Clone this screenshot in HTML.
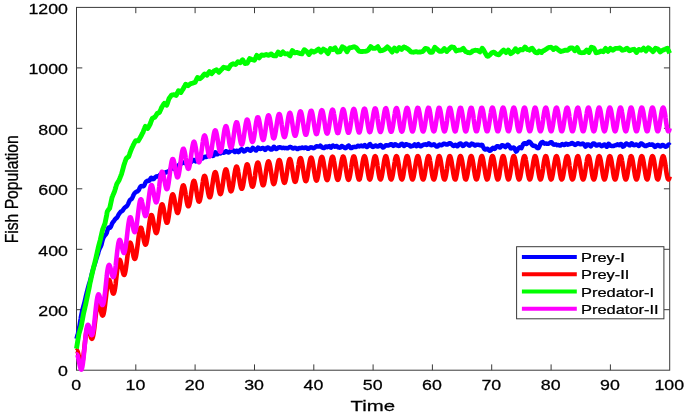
<!DOCTYPE html>
<html><head><meta charset="utf-8"><title>Fish Population</title>
<style>
html,body{margin:0;padding:0;background:#fff;}
svg{display:block}
text{font-family:"Liberation Sans",Arial,Helvetica,sans-serif;fill:#000;stroke:#000;stroke-width:0.25px}
.tk{font-size:14px}
.lb{font-size:15px}
.yl{font-size:15.7px}
.lg{font-size:12.8px}
</style></head><body>
<svg width="685" height="416" viewBox="0 0 685 416">
<rect x="0" y="0" width="685" height="416" fill="#fff"/>
<rect x="76.5" y="7.4" width="593.2" height="362.8" fill="none" stroke="#3a3a3a" stroke-width="1"/>
<text class="tk" transform="translate(76.1,390.0) scale(1.27,1)" text-anchor="middle">0</text>
<path d="M135.8 370.2v-5.8 M135.8 7.4v5.8" stroke="#3a3a3a" stroke-width="1"/>
<text class="tk" transform="translate(135.4,390.0) scale(1.27,1)" text-anchor="middle">10</text>
<path d="M195.1 370.2v-5.8 M195.1 7.4v5.8" stroke="#3a3a3a" stroke-width="1"/>
<text class="tk" transform="translate(194.7,390.0) scale(1.27,1)" text-anchor="middle">20</text>
<path d="M254.5 370.2v-5.8 M254.5 7.4v5.8" stroke="#3a3a3a" stroke-width="1"/>
<text class="tk" transform="translate(254.1,390.0) scale(1.27,1)" text-anchor="middle">30</text>
<path d="M313.8 370.2v-5.8 M313.8 7.4v5.8" stroke="#3a3a3a" stroke-width="1"/>
<text class="tk" transform="translate(313.4,390.0) scale(1.27,1)" text-anchor="middle">40</text>
<path d="M373.1 370.2v-5.8 M373.1 7.4v5.8" stroke="#3a3a3a" stroke-width="1"/>
<text class="tk" transform="translate(372.7,390.0) scale(1.27,1)" text-anchor="middle">50</text>
<path d="M432.4 370.2v-5.8 M432.4 7.4v5.8" stroke="#3a3a3a" stroke-width="1"/>
<text class="tk" transform="translate(432.0,390.0) scale(1.27,1)" text-anchor="middle">60</text>
<path d="M491.7 370.2v-5.8 M491.7 7.4v5.8" stroke="#3a3a3a" stroke-width="1"/>
<text class="tk" transform="translate(491.3,390.0) scale(1.27,1)" text-anchor="middle">70</text>
<path d="M551.1 370.2v-5.8 M551.1 7.4v5.8" stroke="#3a3a3a" stroke-width="1"/>
<text class="tk" transform="translate(550.7,390.0) scale(1.27,1)" text-anchor="middle">80</text>
<path d="M610.4 370.2v-5.8 M610.4 7.4v5.8" stroke="#3a3a3a" stroke-width="1"/>
<text class="tk" transform="translate(610.0,390.0) scale(1.27,1)" text-anchor="middle">90</text>
<text class="tk" transform="translate(669.3,390.0) scale(1.27,1)" text-anchor="middle">100</text>
<text class="tk" transform="translate(68.0,376.4) scale(1.27,1)" text-anchor="end">0</text>
<path d="M76.5 309.7h5.8 M669.7 309.7h-5.8" stroke="#3a3a3a" stroke-width="1"/>
<text class="tk" transform="translate(68.0,315.9) scale(1.27,1)" text-anchor="end">200</text>
<path d="M76.5 249.3h5.8 M669.7 249.3h-5.8" stroke="#3a3a3a" stroke-width="1"/>
<text class="tk" transform="translate(68.0,255.5) scale(1.27,1)" text-anchor="end">400</text>
<path d="M76.5 188.8h5.8 M669.7 188.8h-5.8" stroke="#3a3a3a" stroke-width="1"/>
<text class="tk" transform="translate(68.0,195.0) scale(1.27,1)" text-anchor="end">600</text>
<path d="M76.5 128.3h5.8 M669.7 128.3h-5.8" stroke="#3a3a3a" stroke-width="1"/>
<text class="tk" transform="translate(68.0,134.5) scale(1.27,1)" text-anchor="end">800</text>
<path d="M76.5 67.9h5.8 M669.7 67.9h-5.8" stroke="#3a3a3a" stroke-width="1"/>
<text class="tk" transform="translate(68.0,74.1) scale(1.27,1)" text-anchor="end">1000</text>
<text class="tk" transform="translate(68.0,13.6) scale(1.27,1)" text-anchor="end">1200</text>
<text class="lb" transform="translate(372.8,410.9) scale(1.36,1)" text-anchor="middle">Time</text>
<text class="yl" transform="translate(17.65,189.3) scale(1.2,1) rotate(-90)" text-anchor="middle">Fish Population</text>
<path d="M76.5,338.9 L76.8,337.7 L77.1,336.5 L77.4,335.4 L77.7,334.4 L78.0,333.3 L78.3,332.2 L78.6,330.7 L78.9,329.1 L79.2,327.5 L79.5,325.8 L79.8,324.0 L80.1,322.1 L80.4,320.5 L80.7,318.8 L80.9,317.2 L81.2,315.6 L81.5,314.1 L81.8,312.7 L82.1,311.3 L82.4,310.1 L82.7,308.9 L83.0,307.8 L83.3,306.7 L83.6,305.6 L83.9,304.5 L84.2,303.4 L84.5,302.2 L84.8,301.0 L85.1,299.7 L85.4,298.4 L85.7,297.1 L86.0,295.8 L86.3,294.5 L86.6,293.3 L86.9,292.1 L87.2,291.0 L87.5,289.8 L87.8,288.6 L88.1,287.5 L88.4,286.4 L88.7,285.3 L89.0,284.2 L89.3,283.4 L89.6,282.6 L89.8,281.7 L90.1,280.7 L90.4,279.6 L90.7,278.5 L91.0,277.3 L91.3,276.0 L91.6,274.8 L91.9,273.6 L92.2,272.5 L92.5,271.4 L92.8,270.3 L93.1,269.2 L93.4,268.2 L93.7,267.2 L94.0,266.2 L94.3,265.3 L94.6,264.5 L94.9,263.6 L95.2,262.7 L95.5,261.7 L95.8,260.7 L96.1,259.6 L96.4,258.6 L96.7,257.6 L97.0,256.7 L97.3,255.8 L97.6,254.9 L97.9,254.2 L98.2,253.1 L98.4,252.1 L98.7,251.2 L99.0,250.3 L99.3,249.5 L99.6,248.7 L99.9,248.1 L100.2,247.6 L100.5,247.0 L100.8,246.3 L101.1,245.6 L101.4,244.9 L101.7,243.7 L102.0,242.5 L102.3,241.3 L102.6,240.2 L102.9,239.2 L103.2,238.3 L103.5,237.6 L103.8,237.1 L104.1,236.6 L104.4,236.1 L104.7,235.7 L105.0,235.3 L105.3,235.0 L105.6,234.6 L105.9,234.3 L106.2,233.8 L106.5,233.3 L106.8,232.7 L107.0,231.8 L107.3,230.9 L107.6,230.0 L107.9,229.1 L108.2,228.3 L108.5,227.6 L108.8,227.5 L109.1,227.4 L109.4,227.4 L109.7,227.5 L110.0,227.5 L110.3,227.6 L110.6,227.0 L110.9,226.5 L111.2,225.8 L111.5,225.1 L111.8,224.3 L112.1,223.5 L112.4,223.0 L112.7,222.6 L113.0,222.1 L113.3,221.7 L113.6,221.4 L113.9,221.1 L114.2,220.6 L114.5,220.1 L114.8,219.7 L115.1,219.3 L115.4,218.9 L115.7,218.5 L115.9,218.4 L116.2,218.3 L116.5,218.0 L116.8,217.8 L117.1,217.4 L117.4,217.0 L117.7,216.4 L118.0,215.8 L118.3,215.2 L118.6,214.7 L118.9,214.2 L119.2,213.8 L119.5,213.3 L119.8,212.9 L120.1,212.5 L120.4,212.1 L120.7,211.8 L121.0,211.4 L121.3,211.4 L121.6,211.3 L121.9,211.2 L122.2,211.0 L122.5,210.7 L122.8,210.3 L123.1,209.9 L123.4,209.4 L123.7,208.9 L124.0,208.5 L124.3,208.1 L124.5,207.9 L124.8,207.5 L125.1,207.3 L125.4,207.1 L125.7,206.9 L126.0,206.7 L126.3,206.6 L126.6,206.3 L126.9,206.0 L127.2,205.6 L127.5,205.1 L127.8,204.6 L128.1,204.0 L128.4,203.3 L128.7,202.6 L129.0,201.9 L129.3,201.3 L129.6,200.7 L129.9,200.1 L130.2,199.8 L130.5,199.6 L130.8,199.4 L131.1,199.2 L131.4,199.1 L131.7,198.9 L132.0,198.4 L132.3,197.8 L132.6,197.2 L132.9,196.6 L133.2,195.9 L133.4,195.1 L133.7,194.6 L134.0,194.1 L134.3,193.6 L134.6,193.2 L134.9,192.8 L135.2,192.6 L135.5,192.3 L135.8,192.1 L136.1,191.9 L136.4,191.8 L136.7,191.7 L137.0,191.5 L137.3,191.4 L137.6,191.3 L137.9,191.0 L138.2,190.7 L138.5,190.4 L138.8,190.0 L139.1,189.3 L139.4,188.6 L139.7,187.9 L140.0,187.3 L140.3,186.8 L140.6,186.3 L140.9,186.2 L141.2,186.1 L141.5,186.1 L141.8,186.2 L142.0,186.2 L142.3,186.2 L142.6,186.3 L142.9,186.3 L143.2,186.3 L143.5,186.2 L143.8,186.0 L144.1,185.7 L144.4,185.0 L144.7,184.3 L145.0,183.6 L145.3,183.0 L145.6,182.4 L145.9,181.9 L146.2,181.6 L146.5,181.3 L146.8,181.1 L147.1,181.0 L147.4,180.8 L147.7,180.7 L148.0,180.8 L148.3,180.9 L148.6,180.9 L148.9,180.8 L149.2,180.7 L149.5,180.6 L149.8,180.0 L150.1,179.5 L150.4,178.9 L150.7,178.4 L150.9,178.0 L151.2,177.7 L151.5,177.8 L151.8,178.0 L152.1,178.3 L152.4,178.6 L152.7,178.9 L153.0,179.2 L153.3,179.1 L153.6,179.0 L153.9,178.8 L154.2,178.5 L154.5,178.1 L154.8,177.7 L155.1,177.4 L155.4,177.1 L155.7,176.8 L156.0,176.6 L156.3,176.5 L156.6,176.4 L156.9,176.3 L157.2,176.3 L157.5,176.3 L157.8,176.4 L158.1,176.4 L158.4,176.5 L158.7,176.3 L159.0,176.1 L159.3,175.9 L159.5,175.5 L159.8,175.1 L160.1,174.6 L160.4,174.4 L160.7,174.2 L161.0,173.9 L161.3,173.8 L161.6,173.6 L161.9,173.6 L162.2,173.3 L162.5,173.1 L162.8,172.9 L163.1,172.8 L163.4,172.7 L163.7,172.5 L164.0,172.7 L164.3,172.8 L164.6,172.8 L164.9,172.8 L165.2,172.7 L165.5,172.5 L165.8,172.4 L166.1,172.2 L166.4,172.1 L166.7,172.0 L167.0,171.9 L167.3,172.0 L167.6,171.7 L167.9,171.5 L168.1,171.4 L168.4,171.3 L168.7,171.2 L169.0,171.1 L169.3,170.9 L169.6,170.6 L169.9,170.2 L170.2,169.8 L170.5,169.3 L170.8,168.7 L171.1,168.5 L171.4,168.4 L171.7,168.2 L172.0,168.1 L172.3,168.1 L172.6,168.1 L172.9,168.2 L173.2,168.3 L173.5,168.5 L173.8,168.7 L174.1,169.0 L174.4,169.2 L174.7,169.1 L175.0,168.9 L175.3,168.7 L175.6,168.4 L175.9,168.0 L176.2,167.6 L176.5,167.3 L176.8,167.1 L177.0,166.8 L177.3,166.6 L177.6,166.5 L177.9,166.5 L178.2,166.0 L178.5,165.6 L178.8,165.2 L179.1,164.9 L179.4,164.5 L179.7,164.2 L180.0,164.2 L180.3,164.2 L180.6,164.1 L180.9,163.9 L181.2,163.7 L181.5,163.4 L181.8,163.2 L182.1,162.9 L182.4,162.7 L182.7,162.5 L183.0,162.4 L183.3,162.4 L183.6,162.4 L183.9,162.5 L184.2,162.7 L184.5,162.9 L184.8,163.1 L185.1,163.2 L185.4,163.2 L185.6,163.1 L185.9,162.9 L186.2,162.7 L186.5,162.4 L186.8,162.0 L187.1,162.0 L187.4,162.0 L187.7,161.9 L188.0,162.0 L188.3,162.1 L188.6,162.2 L188.9,162.1 L189.2,162.1 L189.5,162.1 L189.8,162.2 L190.1,162.2 L190.4,162.3 L190.7,162.2 L191.0,162.1 L191.3,161.9 L191.6,161.6 L191.9,161.3 L192.2,160.9 L192.5,160.7 L192.8,160.5 L193.1,160.3 L193.4,160.1 L193.7,160.0 L194.0,160.0 L194.3,160.1 L194.5,160.3 L194.8,160.5 L195.1,160.8 L195.4,161.0 L195.7,161.3 L196.0,160.9 L196.3,160.5 L196.6,159.9 L196.9,159.4 L197.2,158.7 L197.5,158.0 L197.8,158.0 L198.1,157.9 L198.4,157.9 L198.7,157.9 L199.0,158.0 L199.3,158.1 L199.6,158.1 L199.9,158.1 L200.2,158.1 L200.5,158.2 L200.8,158.3 L201.1,158.3 L201.4,158.5 L201.7,158.5 L202.0,158.5 L202.3,158.4 L202.6,158.3 L202.9,158.1 L203.1,157.8 L203.4,157.5 L203.7,157.3 L204.0,157.1 L204.3,157.0 L204.6,156.9 L204.9,156.8 L205.2,156.8 L205.5,156.8 L205.8,156.9 L206.1,156.9 L206.4,157.0 L206.7,156.8 L207.0,156.6 L207.3,156.3 L207.6,155.9 L207.9,155.5 L208.2,155.0 L208.5,154.8 L208.8,154.5 L209.1,154.3 L209.4,154.1 L209.7,154.0 L210.0,153.9 L210.3,154.1 L210.6,154.3 L210.9,154.6 L211.2,154.9 L211.5,155.1 L211.7,155.4 L212.0,155.6 L212.3,155.8 L212.6,155.9 L212.9,155.9 L213.2,155.8 L213.5,155.7 L213.8,155.1 L214.1,154.4 L214.4,153.8 L214.7,153.3 L215.0,152.8 L215.3,152.3 L215.6,152.6 L215.9,152.9 L216.2,153.2 L216.5,153.6 L216.8,154.0 L217.1,154.3 L217.4,154.3 L217.7,154.1 L218.0,153.9 L218.3,153.6 L218.6,153.3 L218.9,152.9 L219.2,152.9 L219.5,152.9 L219.8,152.9 L220.1,153.0 L220.4,153.1 L220.6,153.3 L220.9,153.0 L221.2,152.8 L221.5,152.7 L221.8,152.5 L222.1,152.4 L222.4,152.3 L222.7,152.5 L223.0,152.6 L223.3,152.7 L223.6,152.7 L223.9,152.7 L224.2,152.6 L224.5,152.3 L224.8,152.0 L225.1,151.7 L225.4,151.5 L225.7,151.3 L226.0,151.2 L226.3,151.3 L226.6,151.5 L226.9,151.6 L227.2,151.9 L227.5,152.1 L227.8,152.2 L228.1,152.4 L228.4,152.4 L228.7,152.4 L229.0,152.3 L229.2,152.2 L229.5,152.0 L229.8,151.7 L230.1,151.4 L230.4,151.1 L230.7,150.8 L231.0,150.6 L231.3,150.5 L231.6,150.4 L231.9,150.3 L232.2,150.2 L232.5,150.2 L232.8,150.2 L233.1,150.2 L233.4,150.7 L233.7,151.1 L234.0,151.4 L234.3,151.7 L234.6,152.0 L234.9,152.1 L235.2,151.8 L235.5,151.5 L235.8,151.2 L236.1,150.9 L236.4,150.8 L236.7,150.7 L237.0,150.8 L237.3,151.1 L237.6,151.4 L237.9,151.7 L238.1,152.0 L238.4,152.2 L238.7,152.0 L239.0,151.8 L239.3,151.4 L239.6,151.0 L239.9,150.5 L240.2,150.0 L240.5,149.8 L240.8,149.6 L241.1,149.4 L241.4,149.3 L241.7,149.3 L242.0,149.3 L242.3,149.6 L242.6,149.9 L242.9,150.2 L243.2,150.6 L243.5,151.0 L243.8,151.4 L244.1,151.4 L244.4,151.3 L244.7,151.2 L245.0,151.0 L245.3,150.8 L245.6,150.5 L245.9,150.1 L246.2,149.8 L246.5,149.5 L246.7,149.2 L247.0,149.1 L247.3,148.9 L247.6,149.0 L247.9,149.1 L248.2,149.3 L248.5,149.4 L248.8,149.6 L249.1,149.8 L249.4,150.1 L249.7,150.4 L250.0,150.6 L250.3,150.7 L250.6,150.7 L250.9,150.7 L251.2,150.2 L251.5,149.6 L251.8,149.1 L252.1,148.7 L252.4,148.3 L252.7,147.9 L253.0,148.0 L253.3,148.2 L253.6,148.4 L253.9,148.7 L254.2,148.9 L254.5,149.1 L254.8,149.5 L255.1,149.8 L255.3,150.1 L255.6,150.3 L255.9,150.4 L256.2,150.5 L256.5,149.9 L256.8,149.4 L257.1,148.8 L257.4,148.4 L257.7,148.0 L258.0,147.6 L258.3,147.7 L258.6,147.9 L258.9,148.1 L259.2,148.4 L259.5,148.6 L259.8,148.8 L260.1,148.9 L260.4,148.9 L260.7,148.9 L261.0,148.8 L261.3,148.6 L261.6,148.4 L261.9,148.2 L262.2,148.1 L262.5,148.1 L262.8,148.0 L263.1,148.1 L263.4,148.2 L263.7,148.4 L264.0,148.7 L264.2,149.0 L264.5,149.3 L264.8,149.7 L265.1,150.0 L265.4,149.8 L265.7,149.5 L266.0,149.2 L266.3,148.7 L266.6,148.3 L266.9,147.7 L267.2,147.7 L267.5,147.6 L267.8,147.5 L268.1,147.6 L268.4,147.6 L268.7,147.8 L269.0,148.0 L269.3,148.2 L269.6,148.5 L269.9,148.8 L270.2,149.1 L270.5,149.4 L270.8,149.5 L271.1,149.6 L271.4,149.6 L271.7,149.5 L272.0,149.4 L272.3,149.2 L272.6,148.7 L272.8,148.2 L273.1,147.7 L273.4,147.3 L273.7,146.9 L274.0,146.7 L274.3,147.0 L274.6,147.3 L274.9,147.7 L275.2,148.1 L275.5,148.5 L275.8,148.9 L276.1,149.0 L276.4,149.0 L276.7,148.9 L277.0,148.7 L277.3,148.5 L277.6,148.3 L277.9,148.0 L278.2,147.8 L278.5,147.5 L278.8,147.4 L279.1,147.3 L279.4,147.3 L279.7,147.2 L280.0,147.3 L280.3,147.4 L280.6,147.5 L280.9,147.6 L281.2,147.6 L281.5,147.8 L281.7,147.9 L282.0,148.0 L282.3,148.0 L282.6,147.9 L282.9,147.8 L283.2,147.8 L283.5,147.8 L283.8,147.8 L284.1,147.9 L284.4,148.0 L284.7,148.2 L285.0,148.1 L285.3,148.1 L285.6,148.1 L285.9,148.1 L286.2,148.1 L286.5,148.1 L286.8,148.2 L287.1,148.3 L287.4,148.3 L287.7,148.3 L288.0,148.1 L288.3,148.0 L288.6,147.7 L288.9,147.5 L289.2,147.3 L289.5,147.1 L289.8,147.1 L290.1,147.0 L290.3,147.1 L290.6,147.1 L290.9,147.2 L291.2,147.4 L291.5,147.5 L291.8,147.6 L292.1,147.9 L292.4,148.1 L292.7,148.3 L293.0,148.4 L293.3,148.5 L293.6,148.5 L293.9,148.3 L294.2,148.1 L294.5,147.9 L294.8,147.8 L295.1,147.8 L295.4,147.9 L295.7,148.0 L296.0,148.2 L296.3,148.4 L296.6,148.6 L296.9,148.8 L297.2,149.0 L297.5,149.1 L297.8,149.0 L298.1,148.9 L298.4,148.7 L298.7,148.5 L298.9,148.2 L299.2,148.1 L299.5,148.0 L299.8,148.0 L300.1,148.0 L300.4,148.0 L300.7,148.2 L301.0,148.0 L301.3,147.9 L301.6,147.8 L301.9,147.7 L302.2,147.6 L302.5,147.5 L302.8,147.7 L303.1,147.9 L303.4,148.0 L303.7,148.1 L304.0,148.1 L304.3,148.0 L304.6,147.9 L304.9,147.7 L305.2,147.6 L305.5,147.5 L305.8,147.5 L306.1,147.6 L306.4,147.7 L306.7,147.9 L307.0,148.1 L307.3,148.4 L307.6,148.6 L307.8,148.8 L308.1,148.8 L308.4,148.8 L308.7,148.6 L309.0,148.5 L309.3,148.2 L309.6,147.9 L309.9,147.7 L310.2,147.6 L310.5,147.4 L310.8,147.3 L311.1,147.3 L311.4,147.4 L311.7,147.4 L312.0,147.5 L312.3,147.7 L312.6,147.9 L312.9,148.0 L313.2,148.1 L313.5,148.2 L313.8,148.1 L314.1,148.0 L314.4,147.8 L314.7,147.6 L315.0,147.3 L315.3,147.0 L315.6,146.8 L315.9,146.6 L316.2,146.4 L316.4,146.3 L316.7,146.3 L317.0,146.3 L317.3,146.3 L317.6,146.4 L317.9,146.4 L318.2,146.5 L318.5,146.5 L318.8,146.5 L319.1,146.5 L319.4,146.4 L319.7,146.2 L320.0,146.0 L320.3,145.7 L320.6,146.0 L320.9,146.2 L321.2,146.4 L321.5,146.7 L321.8,147.1 L322.1,147.6 L322.4,147.6 L322.7,147.6 L323.0,147.8 L323.3,147.9 L323.6,148.0 L323.9,148.1 L324.2,148.0 L324.5,147.8 L324.8,147.6 L325.1,147.3 L325.3,147.0 L325.6,146.6 L325.9,146.6 L326.2,146.6 L326.5,146.6 L326.8,146.7 L327.1,146.9 L327.4,147.2 L327.7,146.9 L328.0,146.8 L328.3,146.6 L328.6,146.5 L328.9,146.4 L329.2,146.2 L329.5,146.6 L329.8,146.9 L330.1,147.2 L330.4,147.4 L330.7,147.5 L331.0,147.6 L331.3,147.2 L331.6,146.7 L331.9,146.3 L332.2,146.0 L332.5,145.7 L332.8,145.5 L333.1,145.6 L333.4,145.8 L333.7,146.0 L333.9,146.3 L334.2,146.5 L334.5,146.7 L334.8,146.7 L335.1,146.7 L335.4,146.6 L335.7,146.4 L336.0,146.2 L336.3,145.9 L336.6,146.0 L336.9,146.2 L337.2,146.4 L337.5,146.6 L337.8,146.9 L338.1,147.3 L338.4,147.3 L338.7,147.3 L339.0,147.4 L339.3,147.6 L339.6,147.7 L339.9,147.7 L340.2,147.6 L340.5,147.4 L340.8,147.2 L341.1,146.8 L341.4,146.5 L341.7,146.0 L342.0,146.1 L342.3,146.2 L342.6,146.3 L342.8,146.5 L343.1,146.7 L343.4,147.0 L343.7,147.1 L344.0,147.3 L344.3,147.5 L344.6,147.8 L344.9,148.0 L345.2,148.2 L345.5,148.1 L345.8,148.0 L346.1,147.8 L346.4,147.5 L346.7,147.2 L347.0,146.9 L347.3,146.5 L347.6,146.2 L347.9,146.0 L348.2,145.8 L348.5,145.6 L348.8,145.5 L349.1,145.9 L349.4,146.3 L349.7,146.7 L350.0,147.2 L350.3,147.6 L350.6,148.0 L350.9,148.1 L351.2,148.1 L351.4,148.1 L351.7,147.9 L352.0,147.8 L352.3,147.5 L352.6,147.3 L352.9,147.1 L353.2,147.0 L353.5,146.9 L353.8,146.9 L354.1,146.9 L354.4,146.9 L354.7,146.8 L355.0,146.9 L355.3,146.9 L355.6,147.0 L355.9,147.0 L356.2,146.9 L356.5,146.8 L356.8,146.7 L357.1,146.4 L357.4,146.1 L357.7,145.8 L358.0,145.8 L358.3,145.8 L358.6,145.9 L358.9,146.0 L359.2,146.1 L359.5,146.4 L359.8,146.2 L360.0,146.0 L360.3,145.9 L360.6,145.8 L360.9,145.7 L361.2,145.5 L361.5,145.8 L361.8,146.1 L362.1,146.2 L362.4,146.3 L362.7,146.3 L363.0,146.3 L363.3,146.0 L363.6,145.7 L363.9,145.5 L364.2,145.3 L364.5,145.2 L364.8,145.1 L365.1,145.4 L365.4,145.7 L365.7,146.0 L366.0,146.4 L366.3,146.7 L366.6,147.0 L366.9,147.0 L367.2,146.9 L367.5,146.7 L367.8,146.4 L368.1,146.1 L368.4,145.7 L368.7,145.4 L368.9,145.0 L369.2,144.7 L369.5,144.4 L369.8,144.2 L370.1,144.1 L370.4,144.5 L370.7,144.9 L371.0,145.3 L371.3,145.7 L371.6,146.1 L371.9,146.5 L372.2,146.7 L372.5,146.8 L372.8,146.9 L373.1,146.9 L373.4,146.8 L373.7,146.7 L374.0,146.4 L374.3,146.1 L374.6,145.9 L374.9,145.7 L375.2,145.5 L375.5,145.5 L375.8,145.6 L376.1,145.7 L376.4,145.9 L376.7,146.1 L377.0,146.3 L377.3,146.4 L377.5,146.5 L377.8,146.5 L378.1,146.4 L378.4,146.3 L378.7,146.0 L379.0,145.8 L379.3,145.6 L379.6,145.4 L379.9,145.2 L380.2,145.1 L380.5,145.1 L380.8,145.1 L381.1,145.4 L381.4,145.8 L381.7,146.2 L382.0,146.6 L382.3,147.0 L382.6,147.4 L382.9,147.5 L383.2,147.4 L383.5,147.3 L383.8,147.1 L384.1,146.9 L384.4,146.6 L384.7,146.3 L385.0,146.0 L385.3,145.7 L385.6,145.4 L385.9,145.3 L386.2,145.2 L386.4,145.2 L386.7,145.2 L387.0,145.3 L387.3,145.4 L387.6,145.5 L387.9,145.5 L388.2,145.6 L388.5,145.5 L388.8,145.5 L389.1,145.3 L389.4,145.1 L389.7,144.9 L390.0,144.6 L390.3,144.4 L390.6,144.3 L390.9,144.2 L391.2,144.2 L391.5,144.2 L391.8,144.4 L392.1,144.7 L392.4,145.0 L392.7,145.4 L393.0,145.7 L393.3,146.0 L393.6,145.8 L393.9,145.6 L394.2,145.4 L394.5,145.1 L394.8,144.7 L395.0,144.3 L395.3,144.3 L395.6,144.4 L395.9,144.5 L396.2,144.7 L396.5,145.0 L396.8,145.3 L397.1,145.3 L397.4,145.4 L397.7,145.6 L398.0,145.7 L398.3,145.8 L398.6,145.9 L398.9,145.9 L399.2,145.8 L399.5,145.6 L399.8,145.3 L400.1,145.0 L400.4,144.7 L400.7,144.4 L401.0,144.2 L401.3,144.0 L401.6,143.9 L401.9,143.8 L402.2,143.8 L402.5,144.1 L402.8,144.5 L403.1,144.9 L403.4,145.3 L403.6,145.6 L403.9,146.0 L404.2,145.9 L404.5,145.7 L404.8,145.4 L405.1,145.1 L405.4,144.7 L405.7,144.3 L406.0,144.3 L406.3,144.3 L406.6,144.3 L406.9,144.4 L407.2,144.6 L407.5,144.8 L407.8,144.8 L408.1,144.8 L408.4,144.9 L408.7,145.0 L409.0,145.1 L409.3,145.1 L409.6,145.5 L409.9,145.8 L410.2,146.1 L410.5,146.3 L410.8,146.4 L411.1,146.5 L411.4,146.3 L411.7,146.1 L412.0,145.9 L412.3,145.8 L412.5,145.8 L412.8,145.9 L413.1,145.6 L413.4,145.3 L413.7,145.1 L414.0,144.9 L414.3,144.7 L414.6,144.4 L414.9,144.9 L415.2,145.2 L415.5,145.6 L415.8,145.8 L416.1,146.0 L416.4,146.2 L416.7,145.7 L417.0,145.3 L417.3,144.9 L417.6,144.5 L417.9,144.3 L418.2,144.1 L418.5,144.4 L418.8,144.7 L419.1,145.1 L419.4,145.4 L419.7,145.8 L420.0,146.1 L420.3,146.2 L420.6,146.3 L420.9,146.3 L421.1,146.2 L421.4,146.0 L421.7,145.9 L422.0,145.6 L422.3,145.3 L422.6,145.1 L422.9,144.9 L423.2,144.8 L423.5,144.8 L423.8,144.6 L424.1,144.6 L424.4,144.5 L424.7,144.5 L425.0,144.4 L425.3,144.3 L425.6,144.6 L425.9,144.7 L426.2,144.8 L426.5,144.9 L426.8,144.9 L427.1,144.8 L427.4,144.5 L427.7,144.1 L428.0,143.8 L428.3,143.6 L428.6,143.4 L428.9,143.3 L429.2,143.5 L429.5,143.8 L429.8,144.1 L430.0,144.4 L430.3,144.7 L430.6,144.9 L430.9,145.1 L431.2,145.2 L431.5,145.2 L431.8,145.2 L432.1,145.1 L432.4,145.0 L432.7,144.8 L433.0,144.6 L433.3,144.4 L433.6,144.4 L433.9,144.3 L434.2,144.4 L434.5,144.7 L434.8,145.0 L435.1,145.3 L435.4,145.6 L435.7,146.0 L436.0,146.2 L436.3,146.4 L436.6,146.5 L436.9,146.6 L437.2,146.5 L437.5,146.4 L437.8,146.3 L438.1,145.9 L438.4,145.6 L438.6,145.2 L438.9,145.0 L439.2,144.8 L439.5,144.6 L439.8,144.7 L440.1,144.8 L440.4,145.0 L440.7,145.1 L441.0,145.2 L441.3,145.3 L441.6,145.2 L441.9,145.1 L442.2,144.9 L442.5,144.6 L442.8,144.3 L443.1,144.0 L443.4,143.8 L443.7,143.7 L444.0,143.7 L444.3,143.7 L444.6,143.8 L444.9,143.9 L445.2,144.0 L445.5,144.1 L445.8,144.2 L446.1,144.4 L446.4,144.5 L446.7,144.5 L447.0,144.6 L447.2,144.6 L447.5,144.5 L447.8,144.3 L448.1,144.1 L448.4,143.8 L448.7,143.6 L449.0,143.4 L449.3,143.3 L449.6,143.2 L449.9,143.2 L450.2,143.2 L450.5,143.4 L450.8,143.6 L451.1,143.9 L451.4,144.2 L451.7,144.4 L452.0,144.6 L452.3,145.0 L452.6,145.3 L452.9,145.6 L453.2,145.7 L453.5,145.9 L453.8,146.0 L454.1,145.7 L454.4,145.4 L454.7,145.2 L455.0,145.0 L455.3,144.9 L455.6,144.8 L455.9,145.0 L456.1,145.3 L456.4,145.6 L456.7,145.8 L457.0,146.1 L457.3,146.3 L457.6,146.0 L457.9,145.8 L458.2,145.4 L458.5,145.0 L458.8,144.5 L459.1,144.0 L459.4,143.8 L459.7,143.7 L460.0,143.5 L460.3,143.5 L460.6,143.5 L460.9,143.6 L461.2,144.0 L461.5,144.4 L461.8,144.8 L462.1,145.2 L462.4,145.6 L462.7,145.9 L463.0,145.9 L463.3,145.8 L463.6,145.6 L463.9,145.4 L464.2,145.1 L464.5,144.8 L464.7,144.5 L465.0,144.2 L465.3,143.9 L465.6,143.8 L465.9,143.6 L466.2,143.6 L466.5,143.7 L466.8,143.9 L467.1,144.1 L467.4,144.3 L467.7,144.5 L468.0,144.6 L468.3,144.9 L468.6,145.2 L468.9,145.4 L469.2,145.6 L469.5,145.6 L469.8,145.7 L470.1,145.2 L470.4,144.8 L470.7,144.4 L471.0,144.1 L471.3,143.8 L471.6,143.6 L471.9,143.7 L472.2,143.8 L472.5,143.9 L472.8,144.0 L473.1,144.2 L473.4,144.2 L473.6,144.6 L473.9,144.9 L474.2,145.2 L474.5,145.3 L474.8,145.5 L475.1,145.6 L475.4,145.3 L475.7,145.0 L476.0,144.9 L476.3,144.7 L476.6,144.7 L476.9,144.7 L477.2,144.7 L477.5,144.7 L477.8,144.7 L478.1,144.8 L478.4,144.8 L478.7,144.8 L479.0,144.9 L479.3,145.0 L479.6,145.2 L479.9,145.2 L480.2,145.3 L480.5,145.4 L480.8,145.2 L481.1,145.0 L481.4,144.9 L481.7,144.8 L482.0,144.9 L482.2,145.0 L482.5,145.5 L482.8,146.2 L483.1,146.8 L483.4,147.4 L483.7,148.0 L484.0,148.6 L484.3,148.9 L484.6,149.2 L484.9,149.4 L485.2,149.5 L485.5,149.5 L485.8,149.4 L486.1,149.3 L486.4,149.1 L486.7,148.9 L487.0,148.8 L487.3,148.8 L487.6,148.8 L487.9,149.1 L488.2,149.4 L488.5,149.8 L488.8,150.1 L489.1,150.5 L489.4,150.7 L489.7,150.8 L490.0,150.7 L490.3,150.6 L490.6,150.5 L490.9,150.2 L491.1,150.0 L491.4,149.5 L491.7,149.1 L492.0,148.6 L492.3,148.3 L492.6,148.0 L492.9,147.8 L493.2,148.0 L493.5,148.2 L493.8,148.4 L494.1,148.6 L494.4,148.8 L494.7,148.9 L495.0,148.7 L495.3,148.3 L495.6,147.9 L495.9,147.5 L496.2,147.0 L496.5,146.5 L496.8,146.3 L497.1,146.2 L497.4,146.2 L497.7,146.2 L498.0,146.2 L498.3,146.4 L498.6,146.5 L498.9,146.8 L499.2,147.0 L499.5,147.2 L499.7,147.5 L500.0,147.6 L500.3,147.4 L500.6,147.1 L500.9,146.7 L501.2,146.3 L501.5,145.8 L501.8,145.3 L502.1,145.3 L502.4,145.3 L502.7,145.3 L503.0,145.4 L503.3,145.5 L503.6,145.8 L503.9,145.9 L504.2,146.2 L504.5,146.4 L504.8,146.7 L505.1,146.9 L505.4,147.1 L505.7,146.8 L506.0,146.5 L506.3,146.2 L506.6,145.7 L506.9,145.3 L507.2,144.8 L507.5,144.7 L507.8,144.7 L508.1,144.8 L508.3,145.0 L508.6,145.2 L508.9,145.6 L509.2,146.0 L509.5,146.4 L509.8,146.9 L510.1,147.4 L510.4,147.9 L510.7,148.3 L511.0,148.4 L511.3,148.4 L511.6,148.3 L511.9,148.2 L512.2,148.1 L512.5,147.9 L512.8,147.8 L513.1,147.7 L513.4,147.6 L513.7,147.6 L514.0,147.7 L514.3,147.8 L514.6,148.5 L514.9,149.1 L515.2,149.8 L515.5,150.5 L515.8,151.1 L516.1,151.6 L516.4,151.4 L516.7,151.2 L517.0,150.8 L517.2,150.4 L517.5,149.8 L517.8,149.2 L518.1,148.8 L518.4,148.5 L518.7,148.1 L519.0,147.8 L519.3,147.5 L519.6,147.3 L519.9,147.4 L520.2,147.6 L520.5,147.8 L520.8,147.9 L521.1,148.1 L521.4,148.2 L521.7,147.6 L522.0,146.9 L522.3,146.2 L522.6,145.5 L522.9,144.8 L523.2,144.0 L523.5,143.8 L523.8,143.5 L524.1,143.4 L524.4,143.3 L524.7,143.2 L525.0,143.2 L525.3,143.3 L525.6,143.4 L525.8,143.6 L526.1,143.8 L526.4,143.9 L526.7,144.0 L527.0,143.7 L527.3,143.4 L527.6,143.0 L527.9,142.6 L528.2,142.2 L528.5,141.8 L528.8,141.7 L529.1,141.7 L529.4,141.7 L529.7,141.9 L530.0,142.1 L530.3,142.4 L530.6,142.8 L530.9,143.2 L531.2,143.7 L531.5,144.1 L531.8,144.5 L532.1,144.9 L532.4,145.2 L532.7,145.5 L533.0,145.7 L533.3,145.8 L533.6,145.8 L533.9,145.9 L534.2,145.8 L534.5,145.8 L534.7,145.8 L535.0,145.9 L535.3,146.0 L535.6,146.3 L535.9,146.5 L536.2,146.9 L536.5,147.2 L536.8,147.5 L537.1,147.8 L537.4,148.0 L537.7,148.1 L538.0,148.2 L538.3,148.1 L538.6,147.8 L538.9,147.4 L539.2,146.6 L539.5,146.1 L539.8,145.4 L540.1,144.6 L540.4,144.0 L540.7,143.5 L541.0,143.2 L541.3,142.6 L541.6,142.3 L541.9,142.3 L542.2,142.2 L542.5,142.1 L542.8,142.0 L543.1,142.4 L543.3,142.8 L543.6,143.1 L543.9,143.3 L544.2,143.5 L544.5,143.7 L544.8,143.5 L545.1,143.5 L545.4,143.4 L545.7,143.4 L546.0,143.5 L546.3,143.7 L546.6,143.7 L546.9,143.7 L547.2,143.8 L547.5,143.8 L547.8,143.8 L548.1,143.7 L548.4,143.7 L548.7,143.7 L549.0,143.5 L549.3,143.3 L549.6,143.1 L549.9,142.8 L550.2,142.6 L550.5,142.4 L550.8,142.3 L551.1,142.2 L551.4,142.3 L551.7,142.3 L551.9,142.7 L552.2,143.0 L552.5,143.4 L552.8,143.8 L553.1,144.1 L553.4,144.4 L553.7,144.6 L554.0,144.7 L554.3,144.7 L554.6,144.6 L554.9,144.5 L555.2,144.4 L555.5,144.4 L555.8,144.4 L556.1,144.5 L556.4,144.7 L556.7,144.9 L557.0,145.2 L557.3,145.1 L557.6,145.1 L557.9,145.1 L558.2,145.1 L558.5,145.1 L558.8,145.0 L559.1,145.2 L559.4,145.4 L559.7,145.5 L560.0,145.5 L560.3,145.5 L560.6,145.5 L560.8,145.1 L561.1,144.8 L561.4,144.5 L561.7,144.3 L562.0,144.2 L562.3,144.1 L562.6,144.3 L562.9,144.4 L563.2,144.6 L563.5,144.7 L563.8,144.9 L564.1,145.0 L564.4,144.9 L564.7,144.8 L565.0,144.6 L565.3,144.3 L565.6,144.1 L565.9,143.7 L566.2,143.8 L566.5,143.8 L566.8,144.0 L567.1,144.1 L567.4,144.4 L567.7,144.7 L568.0,144.6 L568.3,144.5 L568.6,144.4 L568.9,144.3 L569.2,144.2 L569.4,144.0 L569.7,144.0 L570.0,144.0 L570.3,143.9 L570.6,143.8 L570.9,143.6 L571.2,143.4 L571.5,143.2 L571.8,143.1 L572.1,143.1 L572.4,143.1 L572.7,143.3 L573.0,143.4 L573.3,143.6 L573.6,143.9 L573.9,144.2 L574.2,144.4 L574.5,144.7 L574.8,144.8 L575.1,144.9 L575.4,144.8 L575.7,144.7 L576.0,144.5 L576.3,144.3 L576.6,144.1 L576.9,143.9 L577.2,143.6 L577.5,143.4 L577.8,143.3 L578.1,143.3 L578.3,143.3 L578.6,143.5 L578.9,143.6 L579.2,143.8 L579.5,144.0 L579.8,144.1 L580.1,144.2 L580.4,144.3 L580.7,144.3 L581.0,144.2 L581.3,144.1 L581.6,144.0 L581.9,143.8 L582.2,143.7 L582.5,143.7 L582.8,143.6 L583.1,143.7 L583.4,143.8 L583.7,144.0 L584.0,144.4 L584.3,144.9 L584.6,145.4 L584.9,145.8 L585.2,146.2 L585.5,146.6 L585.8,146.4 L586.1,146.1 L586.4,145.8 L586.7,145.4 L586.9,144.9 L587.2,144.5 L587.5,144.4 L587.8,144.4 L588.1,144.4 L588.4,144.5 L588.7,144.6 L589.0,144.8 L589.3,145.1 L589.6,145.4 L589.9,145.7 L590.2,145.9 L590.5,146.2 L590.8,146.4 L591.1,146.1 L591.4,145.7 L591.7,145.3 L592.0,144.8 L592.3,144.3 L592.6,143.8 L592.9,143.6 L593.2,143.5 L593.5,143.4 L593.8,143.4 L594.1,143.4 L594.4,143.6 L594.7,143.9 L595.0,144.2 L595.3,144.6 L595.6,144.9 L595.8,145.2 L596.1,145.4 L596.4,145.5 L596.7,145.5 L597.0,145.4 L597.3,145.3 L597.6,145.1 L597.9,144.9 L598.2,144.7 L598.5,144.6 L598.8,144.4 L599.1,144.4 L599.4,144.4 L599.7,144.5 L600.0,144.8 L600.3,145.1 L600.6,145.4 L600.9,145.7 L601.2,146.0 L601.5,146.2 L601.8,146.1 L602.1,146.0 L602.4,145.9 L602.7,145.7 L603.0,145.4 L603.3,145.1 L603.6,144.9 L603.9,144.7 L604.2,144.6 L604.4,144.6 L604.7,144.6 L605.0,144.7 L605.3,145.0 L605.6,145.4 L605.9,145.8 L606.2,146.2 L606.5,146.6 L606.8,146.8 L607.1,146.5 L607.4,146.1 L607.7,145.6 L608.0,145.0 L608.3,144.4 L608.6,143.8 L608.9,144.0 L609.2,144.2 L609.5,144.5 L609.8,144.9 L610.1,145.3 L610.4,145.8 L610.7,145.8 L611.0,145.8 L611.3,145.9 L611.6,145.9 L611.9,145.9 L612.2,145.9 L612.5,146.0 L612.8,146.1 L613.0,146.1 L613.3,146.1 L613.6,146.0 L613.9,146.0 L614.2,145.7 L614.5,145.5 L614.8,145.4 L615.1,145.3 L615.4,145.3 L615.7,145.3 L616.0,145.2 L616.3,145.0 L616.6,144.9 L616.9,144.7 L617.2,144.6 L617.5,144.3 L617.8,144.6 L618.1,144.8 L618.4,145.0 L618.7,145.1 L619.0,145.2 L619.3,145.2 L619.6,144.8 L619.9,144.5 L620.2,144.3 L620.5,144.1 L620.8,143.9 L621.1,143.9 L621.4,144.3 L621.7,144.8 L621.9,145.3 L622.2,145.7 L622.5,146.2 L622.8,146.6 L623.1,146.5 L623.4,146.4 L623.7,146.3 L624.0,146.0 L624.3,145.8 L624.6,145.5 L624.9,145.0 L625.2,144.6 L625.5,144.2 L625.8,143.9 L626.1,143.6 L626.4,143.5 L626.7,143.6 L627.0,143.8 L627.3,144.0 L627.6,144.2 L627.9,144.3 L628.2,144.4 L628.5,144.7 L628.8,145.0 L629.1,145.2 L629.4,145.3 L629.7,145.3 L630.0,145.4 L630.3,144.9 L630.5,144.4 L630.8,144.0 L631.1,143.7 L631.4,143.4 L631.7,143.2 L632.0,143.5 L632.3,143.9 L632.6,144.2 L632.9,144.6 L633.2,144.8 L633.5,145.1 L633.8,145.2 L634.1,145.2 L634.4,145.2 L634.7,145.1 L635.0,145.0 L635.3,144.8 L635.6,144.7 L635.9,144.6 L636.2,144.5 L636.5,144.6 L636.8,144.7 L637.1,144.8 L637.4,145.0 L637.7,145.2 L638.0,145.5 L638.3,145.7 L638.6,145.9 L638.9,146.0 L639.2,145.7 L639.4,145.4 L639.7,145.0 L640.0,144.6 L640.3,144.1 L640.6,143.6 L640.9,143.5 L641.2,143.5 L641.5,143.5 L641.8,143.6 L642.1,143.8 L642.4,144.0 L642.7,144.2 L643.0,144.5 L643.3,144.8 L643.6,145.0 L643.9,145.3 L644.2,145.4 L644.5,145.7 L644.8,145.9 L645.1,146.0 L645.4,146.0 L645.7,146.1 L646.0,146.1 L646.3,145.8 L646.6,145.5 L646.9,145.3 L647.2,145.2 L647.5,145.2 L647.8,145.2 L648.0,145.1 L648.3,144.9 L648.6,144.8 L648.9,144.7 L649.2,144.6 L649.5,144.3 L649.8,144.5 L650.1,144.7 L650.4,144.7 L650.7,144.7 L651.0,144.7 L651.3,144.7 L651.6,144.6 L651.9,144.5 L652.2,144.5 L652.5,144.6 L652.8,144.7 L653.1,144.9 L653.4,145.2 L653.7,145.6 L654.0,146.0 L654.3,146.3 L654.6,146.6 L654.9,146.9 L655.2,146.8 L655.5,146.6 L655.8,146.4 L656.1,146.1 L656.4,145.8 L656.6,145.5 L656.9,145.3 L657.2,145.1 L657.5,145.1 L657.8,145.0 L658.1,145.1 L658.4,145.2 L658.7,145.4 L659.0,145.6 L659.3,145.9 L659.6,146.1 L659.9,146.3 L660.2,146.4 L660.5,146.4 L660.8,146.3 L661.1,146.1 L661.4,145.8 L661.7,145.5 L662.0,145.2 L662.3,145.1 L662.6,145.0 L662.9,145.0 L663.2,145.0 L663.5,145.2 L663.8,145.3 L664.1,145.6 L664.4,145.8 L664.7,146.1 L665.0,146.4 L665.3,146.6 L665.5,146.7 L665.8,146.7 L666.1,146.7 L666.4,146.5 L666.7,146.3 L667.0,146.1 L667.3,145.9 L667.6,145.5 L667.9,145.2 L668.2,144.9 L668.5,144.7 L668.8,144.6 L669.1,144.5 L669.4,144.9 L669.7,145.3" fill="none" stroke="#0000ff" stroke-width="4.5" stroke-linejoin="round" stroke-linecap="butt"/>
<path d="M76.5,350.9 L76.8,350.6 L77.1,350.7 L77.4,351.1 L77.7,351.8 L78.0,352.7 L78.3,353.9 L78.6,355.2 L78.9,356.6 L79.2,358.1 L79.5,359.6 L79.8,361.1 L80.1,362.3 L80.4,363.4 L80.7,364.3 L80.9,364.9 L81.2,365.1 L81.5,365.0 L81.8,364.6 L82.1,363.7 L82.4,362.5 L82.7,361.0 L83.0,359.1 L83.3,357.0 L83.6,354.6 L83.9,352.0 L84.2,349.3 L84.5,346.5 L84.8,343.7 L85.1,341.0 L85.4,338.4 L85.7,336.0 L86.0,333.8 L86.3,331.8 L86.6,330.2 L86.9,328.9 L87.2,328.0 L87.5,327.4 L87.8,327.2 L88.1,327.3 L88.4,327.7 L88.7,328.4 L89.0,329.3 L89.3,330.4 L89.6,331.6 L89.8,332.9 L90.1,334.2 L90.4,335.4 L90.7,336.5 L91.0,337.5 L91.3,338.2 L91.6,338.6 L91.9,338.8 L92.2,338.6 L92.5,338.1 L92.8,337.2 L93.1,336.0 L93.4,334.5 L93.7,332.6 L94.0,330.5 L94.3,328.1 L94.6,325.6 L94.9,323.0 L95.2,320.3 L95.5,317.6 L95.8,315.0 L96.1,312.5 L96.4,310.2 L96.7,308.1 L97.0,306.3 L97.3,304.8 L97.6,303.7 L97.9,302.9 L98.2,302.5 L98.4,302.4 L98.7,302.7 L99.0,303.2 L99.3,304.1 L99.6,305.1 L99.9,306.3 L100.2,307.7 L100.5,309.1 L100.8,310.5 L101.1,311.8 L101.4,313.0 L101.7,314.1 L102.0,314.9 L102.3,315.4 L102.6,315.6 L102.9,315.4 L103.2,315.0 L103.5,314.1 L103.8,312.9 L104.1,311.4 L104.4,309.6 L104.7,307.5 L105.0,305.1 L105.3,302.6 L105.6,300.0 L105.9,297.4 L106.2,294.7 L106.5,292.1 L106.8,289.7 L107.0,287.4 L107.3,285.3 L107.6,283.6 L107.9,282.1 L108.2,281.0 L108.5,280.3 L108.8,279.9 L109.1,279.9 L109.4,280.1 L109.7,280.7 L110.0,281.6 L110.3,282.7 L110.6,284.0 L110.9,285.4 L111.2,286.8 L111.5,288.3 L111.8,289.6 L112.1,290.9 L112.4,292.0 L112.7,292.8 L113.0,293.4 L113.3,293.6 L113.6,293.5 L113.9,293.1 L114.2,292.3 L114.5,291.2 L114.8,289.7 L115.1,288.0 L115.4,285.9 L115.7,283.7 L115.9,281.3 L116.2,278.7 L116.5,276.2 L116.8,273.6 L117.1,271.1 L117.4,268.8 L117.7,266.6 L118.0,264.7 L118.3,263.0 L118.6,261.7 L118.9,260.7 L119.2,260.0 L119.5,259.8 L119.8,259.8 L120.1,260.2 L120.4,261.0 L120.7,261.9 L121.0,263.1 L121.3,264.5 L121.6,266.0 L121.9,267.5 L122.2,269.1 L122.5,270.5 L122.8,271.9 L123.1,273.0 L123.4,273.9 L123.7,274.6 L124.0,274.9 L124.3,274.9 L124.5,274.5 L124.8,273.8 L125.1,272.7 L125.4,271.3 L125.7,269.7 L126.0,267.7 L126.3,265.5 L126.6,263.2 L126.9,260.7 L127.2,258.3 L127.5,255.8 L127.8,253.4 L128.1,251.1 L128.4,249.0 L128.7,247.2 L129.0,245.6 L129.3,244.4 L129.6,243.5 L129.9,242.9 L130.2,242.7 L130.5,242.9 L130.8,243.4 L131.1,244.2 L131.4,245.2 L131.7,246.5 L132.0,248.0 L132.3,249.5 L132.6,251.2 L132.9,252.8 L133.2,254.3 L133.4,255.7 L133.7,256.9 L134.0,257.8 L134.3,258.5 L134.6,258.9 L134.9,258.9 L135.2,258.6 L135.5,257.9 L135.8,256.9 L136.1,255.5 L136.4,253.9 L136.7,252.0 L137.0,249.8 L137.3,247.5 L137.6,245.1 L137.9,242.7 L138.2,240.2 L138.5,237.9 L138.8,235.7 L139.1,233.6 L139.4,231.8 L139.7,230.3 L140.0,229.1 L140.3,228.3 L140.6,227.8 L140.9,227.7 L141.2,227.9 L141.5,228.4 L141.8,229.3 L142.0,230.4 L142.3,231.7 L142.6,233.2 L142.9,234.8 L143.2,236.5 L143.5,238.2 L143.8,239.7 L144.1,241.2 L144.4,242.4 L144.7,243.4 L145.0,244.2 L145.3,244.6 L145.6,244.7 L145.9,244.4 L146.2,243.8 L146.5,242.8 L146.8,241.5 L147.1,239.9 L147.4,238.1 L147.7,236.0 L148.0,233.8 L148.3,231.5 L148.6,229.1 L148.9,226.7 L149.2,224.5 L149.5,222.3 L149.8,220.4 L150.1,218.7 L150.4,217.3 L150.7,216.2 L150.9,215.4 L151.2,215.0 L151.5,215.0 L151.8,215.3 L152.1,215.9 L152.4,216.9 L152.7,218.1 L153.0,219.5 L153.3,221.1 L153.6,222.8 L153.9,224.5 L154.2,226.2 L154.5,227.8 L154.8,229.3 L155.1,230.6 L155.4,231.7 L155.7,232.5 L156.0,232.9 L156.3,233.1 L156.6,232.8 L156.9,232.2 L157.2,231.3 L157.5,230.1 L157.8,228.5 L158.1,226.7 L158.4,224.7 L158.7,222.5 L159.0,220.2 L159.3,217.9 L159.5,215.6 L159.8,213.3 L160.1,211.2 L160.4,209.3 L160.7,207.7 L161.0,206.3 L161.3,205.3 L161.6,204.6 L161.9,204.3 L162.2,204.3 L162.5,204.6 L162.8,205.3 L163.1,206.3 L163.4,207.5 L163.7,209.0 L164.0,210.6 L164.3,212.3 L164.6,214.1 L164.9,215.8 L165.2,217.5 L165.5,219.0 L165.8,220.3 L166.1,221.4 L166.4,222.2 L166.7,222.7 L167.0,222.8 L167.3,222.6 L167.6,222.0 L167.9,221.1 L168.1,219.9 L168.4,218.3 L168.7,216.5 L169.0,214.5 L169.3,212.3 L169.6,210.0 L169.9,207.7 L170.2,205.4 L170.5,203.2 L170.8,201.2 L171.1,199.3 L171.4,197.7 L171.7,196.3 L172.0,195.3 L172.3,194.7 L172.6,194.4 L172.9,194.4 L173.2,194.8 L173.5,195.5 L173.8,196.5 L174.1,197.8 L174.4,199.2 L174.7,200.8 L175.0,202.6 L175.3,204.3 L175.6,206.1 L175.9,207.7 L176.2,209.2 L176.5,210.5 L176.8,211.6 L177.0,212.4 L177.3,212.9 L177.6,213.0 L177.9,212.7 L178.2,212.2 L178.5,211.2 L178.8,210.0 L179.1,208.5 L179.4,206.7 L179.7,204.7 L180.0,202.5 L180.3,200.3 L180.6,198.0 L180.9,195.7 L181.2,193.6 L181.5,191.6 L181.8,189.8 L182.1,188.2 L182.4,187.0 L182.7,186.1 L183.0,185.5 L183.3,185.3 L183.6,185.4 L183.9,186.0 L184.2,186.8 L184.5,187.9 L184.8,189.3 L185.1,190.9 L185.4,192.7 L185.6,194.6 L185.9,196.5 L186.2,198.3 L186.5,200.1 L186.8,201.8 L187.1,203.3 L187.4,204.5 L187.7,205.4 L188.0,206.0 L188.3,206.3 L188.6,206.2 L188.9,205.8 L189.2,205.0 L189.5,203.9 L189.8,202.5 L190.1,200.8 L190.4,198.9 L190.7,196.9 L191.0,194.8 L191.3,192.6 L191.6,190.5 L191.9,188.5 L192.2,186.6 L192.5,184.9 L192.8,183.4 L193.1,182.3 L193.4,181.4 L193.7,180.9 L194.0,180.8 L194.3,181.0 L194.5,181.5 L194.8,182.4 L195.1,183.5 L195.4,185.0 L195.7,186.6 L196.0,188.3 L196.3,190.2 L196.6,192.1 L196.9,194.0 L197.2,195.8 L197.5,197.4 L197.8,198.8 L198.1,200.0 L198.4,200.9 L198.7,201.5 L199.0,201.7 L199.3,201.6 L199.6,201.1 L199.9,200.2 L200.2,199.1 L200.5,197.6 L200.8,196.0 L201.1,194.1 L201.4,192.0 L201.7,189.9 L202.0,187.7 L202.3,185.5 L202.6,183.5 L202.9,181.6 L203.1,179.9 L203.4,178.4 L203.7,177.3 L204.0,176.4 L204.3,176.0 L204.6,175.8 L204.9,176.1 L205.2,176.6 L205.5,177.5 L205.8,178.7 L206.1,180.2 L206.4,181.8 L206.7,183.6 L207.0,185.5 L207.3,187.5 L207.6,189.4 L207.9,191.2 L208.2,192.8 L208.5,194.3 L208.8,195.5 L209.1,196.4 L209.4,197.0 L209.7,197.3 L210.0,197.2 L210.3,196.7 L210.6,195.9 L210.9,194.8 L211.2,193.4 L211.5,191.7 L211.7,189.8 L212.0,187.8 L212.3,185.7 L212.6,183.6 L212.9,181.5 L213.2,179.4 L213.5,177.6 L213.8,175.9 L214.1,174.5 L214.4,173.4 L214.7,172.7 L215.0,172.2 L215.3,172.1 L215.6,172.4 L215.9,173.0 L216.2,174.0 L216.5,175.2 L216.8,176.7 L217.1,178.4 L217.4,180.3 L217.7,182.2 L218.0,184.2 L218.3,186.1 L218.6,187.9 L218.9,189.6 L219.2,191.1 L219.5,192.3 L219.8,193.3 L220.1,193.9 L220.4,194.1 L220.6,194.1 L220.9,193.6 L221.2,192.8 L221.5,191.7 L221.8,190.3 L222.1,188.7 L222.4,186.8 L222.7,184.8 L223.0,182.8 L223.3,180.6 L223.6,178.6 L223.9,176.6 L224.2,174.7 L224.5,173.1 L224.8,171.7 L225.1,170.7 L225.4,169.9 L225.7,169.5 L226.0,169.4 L226.3,169.7 L226.6,170.4 L226.9,171.3 L227.2,172.6 L227.5,174.1 L227.8,175.8 L228.1,177.6 L228.4,179.6 L228.7,181.5 L229.0,183.4 L229.2,185.3 L229.5,186.9 L229.8,188.4 L230.1,189.6 L230.4,190.5 L230.7,191.1 L231.0,191.4 L231.3,191.2 L231.6,190.8 L231.9,190.0 L232.2,188.8 L232.5,187.4 L232.8,185.8 L233.1,183.9 L233.4,181.9 L233.7,179.8 L234.0,177.7 L234.3,175.6 L234.6,173.6 L234.9,171.8 L235.2,170.2 L235.5,168.8 L235.8,167.8 L236.1,167.0 L236.4,166.6 L236.7,166.6 L237.0,166.9 L237.3,167.6 L237.6,168.6 L237.9,169.8 L238.1,171.4 L238.4,173.1 L238.7,174.9 L239.0,176.9 L239.3,178.9 L239.6,180.8 L239.9,182.6 L240.2,184.3 L240.5,185.8 L240.8,187.0 L241.1,187.9 L241.4,188.5 L241.7,188.8 L242.0,188.7 L242.3,188.2 L242.6,187.4 L242.9,186.3 L243.2,184.9 L243.5,183.2 L243.8,181.4 L244.1,179.4 L244.4,177.3 L244.7,175.2 L245.0,173.2 L245.3,171.2 L245.6,169.4 L245.9,167.8 L246.2,166.5 L246.5,165.4 L246.7,164.7 L247.0,164.4 L247.3,164.4 L247.6,164.7 L247.9,165.4 L248.2,166.4 L248.5,167.7 L248.8,169.2 L249.1,171.0 L249.4,172.9 L249.7,174.8 L250.0,176.8 L250.3,178.8 L250.6,180.6 L250.9,182.3 L251.2,183.8 L251.5,185.0 L251.8,185.9 L252.1,186.5 L252.4,186.7 L252.7,186.6 L253.0,186.2 L253.3,185.4 L253.6,184.3 L253.9,182.9 L254.2,181.2 L254.5,179.4 L254.8,177.4 L255.1,175.3 L255.3,173.2 L255.6,171.2 L255.9,169.2 L256.2,167.5 L256.5,165.9 L256.8,164.6 L257.1,163.6 L257.4,162.9 L257.7,162.6 L258.0,162.6 L258.3,163.0 L258.6,163.7 L258.9,164.7 L259.2,166.1 L259.5,167.6 L259.8,169.4 L260.1,171.3 L260.4,173.3 L260.7,175.3 L261.0,177.3 L261.3,179.1 L261.6,180.8 L261.9,182.3 L262.2,183.5 L262.5,184.5 L262.8,185.1 L263.1,185.3 L263.4,185.2 L263.7,184.8 L264.0,184.0 L264.2,182.9 L264.5,181.5 L264.8,179.8 L265.1,178.0 L265.4,176.0 L265.7,174.0 L266.0,171.9 L266.3,169.9 L266.6,167.9 L266.9,166.2 L267.2,164.6 L267.5,163.4 L267.8,162.4 L268.1,161.7 L268.4,161.4 L268.7,161.4 L269.0,161.8 L269.3,162.6 L269.6,163.6 L269.9,165.0 L270.2,166.5 L270.5,168.3 L270.8,170.2 L271.1,172.2 L271.4,174.2 L271.7,176.1 L272.0,178.0 L272.3,179.7 L272.6,181.1 L272.8,182.3 L273.1,183.2 L273.4,183.8 L273.7,184.1 L274.0,183.9 L274.3,183.4 L274.6,182.6 L274.9,181.5 L275.2,180.1 L275.5,178.4 L275.8,176.6 L276.1,174.6 L276.4,172.5 L276.7,170.4 L277.0,168.4 L277.3,166.5 L277.6,164.7 L277.9,163.2 L278.2,161.9 L278.5,160.9 L278.8,160.3 L279.1,160.0 L279.4,160.1 L279.7,160.5 L280.0,161.2 L280.3,162.3 L280.6,163.6 L280.9,165.2 L281.2,167.0 L281.5,168.9 L281.7,170.9 L282.0,173.0 L282.3,174.9 L282.6,176.8 L282.9,178.5 L283.2,179.9 L283.5,181.1 L283.8,182.0 L284.1,182.6 L284.4,182.9 L284.7,182.7 L285.0,182.2 L285.3,181.4 L285.6,180.3 L285.9,178.9 L286.2,177.2 L286.5,175.4 L286.8,173.4 L287.1,171.4 L287.4,169.3 L287.7,167.3 L288.0,165.4 L288.3,163.6 L288.6,162.1 L288.9,160.8 L289.2,159.9 L289.5,159.3 L289.8,159.0 L290.1,159.1 L290.3,159.5 L290.6,160.3 L290.9,161.4 L291.2,162.7 L291.5,164.3 L291.8,166.1 L292.1,168.1 L292.4,170.1 L292.7,172.1 L293.0,174.0 L293.3,175.9 L293.6,177.6 L293.9,179.0 L294.2,180.2 L294.5,181.1 L294.8,181.7 L295.1,181.9 L295.4,181.7 L295.7,181.2 L296.0,180.4 L296.3,179.3 L296.6,177.8 L296.9,176.2 L297.2,174.3 L297.5,172.4 L297.8,170.3 L298.1,168.2 L298.4,166.2 L298.7,164.3 L298.9,162.6 L299.2,161.1 L299.5,159.9 L299.8,158.9 L300.1,158.3 L300.4,158.1 L300.7,158.2 L301.0,158.6 L301.3,159.4 L301.6,160.5 L301.9,161.9 L302.2,163.6 L302.5,165.4 L302.8,167.3 L303.1,169.3 L303.4,171.4 L303.7,173.3 L304.0,175.2 L304.3,176.9 L304.6,178.3 L304.9,179.5 L305.2,180.4 L305.5,181.0 L305.8,181.2 L306.1,181.1 L306.4,180.6 L306.7,179.8 L307.0,178.6 L307.3,177.2 L307.6,175.6 L307.8,173.7 L308.1,171.7 L308.4,169.7 L308.7,167.6 L309.0,165.7 L309.3,163.8 L309.6,162.1 L309.9,160.6 L310.2,159.4 L310.5,158.4 L310.8,157.9 L311.1,157.6 L311.4,157.7 L311.7,158.2 L312.0,159.0 L312.3,160.1 L312.6,161.5 L312.9,163.2 L313.2,165.0 L313.5,166.9 L313.8,168.9 L314.1,170.9 L314.4,172.9 L314.7,174.7 L315.0,176.4 L315.3,177.9 L315.6,179.0 L315.9,179.9 L316.2,180.4 L316.4,180.6 L316.7,180.5 L317.0,180.0 L317.3,179.1 L317.6,177.9 L317.9,176.5 L318.2,174.8 L318.5,173.0 L318.8,171.0 L319.1,168.9 L319.4,166.9 L319.7,164.9 L320.0,163.0 L320.3,161.3 L320.6,159.8 L320.9,158.6 L321.2,157.7 L321.5,157.1 L321.8,156.9 L322.1,157.0 L322.4,157.5 L322.7,158.3 L323.0,159.5 L323.3,160.9 L323.6,162.5 L323.9,164.4 L324.2,166.3 L324.5,168.4 L324.8,170.4 L325.1,172.3 L325.3,174.2 L325.6,175.9 L325.9,177.3 L326.2,178.5 L326.5,179.4 L326.8,179.9 L327.1,180.1 L327.4,180.0 L327.7,179.4 L328.0,178.6 L328.3,177.4 L328.6,176.0 L328.9,174.3 L329.2,172.5 L329.5,170.5 L329.8,168.5 L330.1,166.4 L330.4,164.4 L330.7,162.6 L331.0,160.9 L331.3,159.4 L331.6,158.2 L331.9,157.4 L332.2,156.8 L332.5,156.6 L332.8,156.8 L333.1,157.3 L333.4,158.1 L333.7,159.3 L333.9,160.7 L334.2,162.4 L334.5,164.2 L334.8,166.2 L335.1,168.2 L335.4,170.2 L335.7,172.2 L336.0,174.1 L336.3,175.7 L336.6,177.2 L336.9,178.4 L337.2,179.2 L337.5,179.8 L337.8,179.9 L338.1,179.8 L338.4,179.2 L338.7,178.4 L339.0,177.2 L339.3,175.8 L339.6,174.1 L339.9,172.2 L340.2,170.3 L340.5,168.2 L340.8,166.2 L341.1,164.2 L341.4,162.3 L341.7,160.7 L342.0,159.2 L342.3,158.0 L342.6,157.2 L342.8,156.6 L343.1,156.5 L343.4,156.6 L343.7,157.2 L344.0,158.0 L344.3,159.2 L344.6,160.6 L344.9,162.3 L345.2,164.2 L345.5,166.1 L345.8,168.2 L346.1,170.2 L346.4,172.1 L346.7,174.0 L347.0,175.7 L347.3,177.1 L347.6,178.3 L347.9,179.1 L348.2,179.6 L348.5,179.8 L348.8,179.6 L349.1,179.1 L349.4,178.2 L349.7,177.0 L350.0,175.6 L350.3,173.9 L350.6,172.0 L350.9,170.0 L351.2,168.0 L351.4,166.0 L351.7,164.0 L352.0,162.1 L352.3,160.5 L352.6,159.0 L352.9,157.9 L353.2,157.0 L353.5,156.5 L353.8,156.3 L354.1,156.5 L354.4,157.1 L354.7,157.9 L355.0,159.1 L355.3,160.6 L355.6,162.2 L355.9,164.1 L356.2,166.1 L356.5,168.1 L356.8,170.1 L357.1,172.1 L357.4,173.9 L357.7,175.6 L358.0,177.0 L358.3,178.2 L358.6,179.0 L358.9,179.5 L359.2,179.7 L359.5,179.5 L359.8,178.9 L360.0,178.0 L360.3,176.8 L360.6,175.4 L360.9,173.7 L361.2,171.8 L361.5,169.8 L361.8,167.8 L362.1,165.8 L362.4,163.8 L362.7,162.0 L363.0,160.3 L363.3,158.9 L363.6,157.7 L363.9,156.9 L364.2,156.4 L364.5,156.2 L364.8,156.4 L365.1,157.0 L365.4,157.9 L365.7,159.1 L366.0,160.5 L366.3,162.2 L366.6,164.1 L366.9,166.0 L367.2,168.1 L367.5,170.1 L367.8,172.1 L368.1,173.9 L368.4,175.5 L368.7,177.0 L368.9,178.1 L369.2,178.9 L369.5,179.4 L369.8,179.6 L370.1,179.3 L370.4,178.8 L370.7,177.9 L371.0,176.7 L371.3,175.2 L371.6,173.5 L371.9,171.6 L372.2,169.7 L372.5,167.6 L372.8,165.6 L373.1,163.6 L373.4,161.8 L373.7,160.1 L374.0,158.7 L374.3,157.6 L374.6,156.8 L374.9,156.3 L375.2,156.1 L375.5,156.3 L375.8,156.9 L376.1,157.8 L376.4,159.0 L376.7,160.5 L377.0,162.2 L377.3,164.1 L377.5,166.0 L377.8,168.1 L378.1,170.1 L378.4,172.1 L378.7,173.9 L379.0,175.5 L379.3,176.9 L379.6,178.1 L379.9,178.9 L380.2,179.4 L380.5,179.5 L380.8,179.3 L381.1,178.7 L381.4,177.8 L381.7,176.6 L382.0,175.1 L382.3,173.4 L382.6,171.5 L382.9,169.5 L383.2,167.5 L383.5,165.5 L383.8,163.5 L384.1,161.7 L384.4,160.0 L384.7,158.6 L385.0,157.5 L385.3,156.7 L385.6,156.2 L385.9,156.1 L386.2,156.3 L386.4,156.9 L386.7,157.8 L387.0,159.0 L387.3,160.5 L387.6,162.2 L387.9,164.1 L388.2,166.1 L388.5,168.1 L388.8,170.2 L389.1,172.1 L389.4,173.9 L389.7,175.6 L390.0,177.0 L390.3,178.1 L390.6,178.9 L390.9,179.4 L391.2,179.5 L391.5,179.2 L391.8,178.6 L392.1,177.7 L392.4,176.5 L392.7,175.0 L393.0,173.3 L393.3,171.4 L393.6,169.4 L393.9,167.4 L394.2,165.4 L394.5,163.4 L394.8,161.6 L395.0,160.0 L395.3,158.6 L395.6,157.5 L395.9,156.7 L396.2,156.2 L396.5,156.1 L396.8,156.3 L397.1,156.9 L397.4,157.9 L397.7,159.1 L398.0,160.6 L398.3,162.3 L398.6,164.2 L398.9,166.2 L399.2,168.2 L399.5,170.2 L399.8,172.2 L400.1,174.0 L400.4,175.6 L400.7,177.0 L401.0,178.1 L401.3,178.9 L401.6,179.4 L401.9,179.5 L402.2,179.2 L402.5,178.6 L402.8,177.7 L403.1,176.4 L403.4,174.9 L403.6,173.2 L403.9,171.3 L404.2,169.4 L404.5,167.3 L404.8,165.3 L405.1,163.3 L405.4,161.5 L405.7,159.9 L406.0,158.5 L406.3,157.4 L406.6,156.6 L406.9,156.2 L407.2,156.1 L407.5,156.4 L407.8,157.0 L408.1,157.9 L408.4,159.2 L408.7,160.7 L409.0,162.4 L409.3,164.3 L409.6,166.3 L409.9,168.3 L410.2,170.3 L410.5,172.3 L410.8,174.1 L411.1,175.7 L411.4,177.1 L411.7,178.2 L412.0,179.0 L412.3,179.4 L412.5,179.5 L412.8,179.2 L413.1,178.6 L413.4,177.6 L413.7,176.4 L414.0,174.9 L414.3,173.2 L414.6,171.3 L414.9,169.3 L415.2,167.2 L415.5,165.2 L415.8,163.3 L416.1,161.5 L416.4,159.8 L416.7,158.5 L417.0,157.4 L417.3,156.6 L417.6,156.2 L417.9,156.1 L418.2,156.4 L418.5,157.0 L418.8,158.0 L419.1,159.2 L419.4,160.7 L419.7,162.5 L420.0,164.3 L420.3,166.3 L420.6,168.4 L420.9,170.4 L421.1,172.3 L421.4,174.1 L421.7,175.8 L422.0,177.1 L422.3,178.2 L422.6,179.0 L422.9,179.4 L423.2,179.5 L423.5,179.2 L423.8,178.6 L424.1,177.6 L424.4,176.3 L424.7,174.8 L425.0,173.1 L425.3,171.2 L425.6,169.2 L425.9,167.2 L426.2,165.1 L426.5,163.2 L426.8,161.4 L427.1,159.8 L427.4,158.4 L427.7,157.3 L428.0,156.6 L428.3,156.2 L428.6,156.1 L428.9,156.4 L429.2,157.0 L429.5,158.0 L429.8,159.3 L430.0,160.8 L430.3,162.5 L430.6,164.4 L430.9,166.4 L431.2,168.5 L431.5,170.5 L431.8,172.4 L432.1,174.2 L432.4,175.8 L432.7,177.2 L433.0,178.2 L433.3,179.0 L433.6,179.4 L433.9,179.5 L434.2,179.2 L434.5,178.5 L434.8,177.6 L435.1,176.3 L435.4,174.8 L435.7,173.0 L436.0,171.1 L436.3,169.1 L436.6,167.1 L436.9,165.1 L437.2,163.1 L437.5,161.3 L437.8,159.7 L438.1,158.4 L438.4,157.3 L438.6,156.6 L438.9,156.2 L439.2,156.1 L439.5,156.4 L439.8,157.1 L440.1,158.0 L440.4,159.3 L440.7,160.9 L441.0,162.6 L441.3,164.5 L441.6,166.5 L441.9,168.5 L442.2,170.6 L442.5,172.5 L442.8,174.3 L443.1,175.9 L443.4,177.2 L443.7,178.3 L444.0,179.0 L444.3,179.4 L444.6,179.5 L444.9,179.1 L445.2,178.5 L445.5,177.5 L445.8,176.2 L446.1,174.7 L446.4,172.9 L446.7,171.0 L447.0,169.0 L447.2,167.0 L447.5,165.0 L447.8,163.0 L448.1,161.3 L448.4,159.7 L448.7,158.3 L449.0,157.3 L449.3,156.5 L449.6,156.2 L449.9,156.1 L450.2,156.4 L450.5,157.1 L450.8,158.1 L451.1,159.4 L451.4,160.9 L451.7,162.7 L452.0,164.6 L452.3,166.6 L452.6,168.6 L452.9,170.6 L453.2,172.6 L453.5,174.4 L453.8,175.9 L454.1,177.3 L454.4,178.3 L454.7,179.0 L455.0,179.4 L455.3,179.5 L455.6,179.1 L455.9,178.5 L456.1,177.5 L456.4,176.2 L456.7,174.6 L457.0,172.9 L457.3,171.0 L457.6,169.0 L457.9,166.9 L458.2,164.9 L458.5,163.0 L458.8,161.2 L459.1,159.6 L459.4,158.3 L459.7,157.2 L460.0,156.5 L460.3,156.1 L460.6,156.1 L460.9,156.5 L461.2,157.1 L461.5,158.1 L461.8,159.4 L462.1,161.0 L462.4,162.7 L462.7,164.7 L463.0,166.7 L463.3,168.7 L463.6,170.7 L463.9,172.6 L464.2,174.4 L464.5,176.0 L464.7,177.3 L465.0,178.4 L465.3,179.1 L465.6,179.4 L465.9,179.5 L466.2,179.1 L466.5,178.4 L466.8,177.4 L467.1,176.1 L467.4,174.6 L467.7,172.8 L468.0,170.9 L468.3,168.9 L468.6,166.8 L468.9,164.8 L469.2,162.9 L469.5,161.1 L469.8,159.6 L470.1,158.2 L470.4,157.2 L470.7,156.5 L471.0,156.1 L471.3,156.1 L471.6,156.5 L471.9,157.2 L472.2,158.2 L472.5,159.5 L472.8,161.1 L473.1,162.8 L473.4,164.7 L473.6,166.7 L473.9,168.8 L474.2,170.8 L474.5,172.7 L474.8,174.5 L475.1,176.1 L475.4,177.4 L475.7,178.4 L476.0,179.1 L476.3,179.4 L476.6,179.4 L476.9,179.1 L477.2,178.4 L477.5,177.4 L477.8,176.1 L478.1,174.5 L478.4,172.7 L478.7,170.8 L479.0,168.8 L479.3,166.7 L479.6,164.7 L479.9,162.8 L480.2,161.1 L480.5,159.5 L480.8,158.2 L481.1,157.2 L481.4,156.5 L481.7,156.1 L482.0,156.1 L482.2,156.5 L482.5,157.2 L482.8,158.2 L483.1,159.6 L483.4,161.1 L483.7,162.9 L484.0,164.8 L484.3,166.8 L484.6,168.9 L484.9,170.9 L485.2,172.8 L485.5,174.6 L485.8,176.1 L486.1,177.4 L486.4,178.4 L486.7,179.1 L487.0,179.5 L487.3,179.4 L487.6,179.1 L487.9,178.4 L488.2,177.3 L488.5,176.0 L488.8,174.4 L489.1,172.6 L489.4,170.7 L489.7,168.7 L490.0,166.7 L490.3,164.7 L490.6,162.7 L490.9,161.0 L491.1,159.4 L491.4,158.1 L491.7,157.1 L492.0,156.5 L492.3,156.1 L492.6,156.1 L492.9,156.5 L493.2,157.2 L493.5,158.3 L493.8,159.6 L494.1,161.2 L494.4,163.0 L494.7,164.9 L495.0,166.9 L495.3,169.0 L495.6,171.0 L495.9,172.9 L496.2,174.6 L496.5,176.2 L496.8,177.5 L497.1,178.5 L497.4,179.1 L497.7,179.5 L498.0,179.4 L498.3,179.0 L498.6,178.3 L498.9,177.3 L499.2,175.9 L499.5,174.4 L499.7,172.6 L500.0,170.6 L500.3,168.6 L500.6,166.6 L500.9,164.6 L501.2,162.7 L501.5,160.9 L501.8,159.4 L502.1,158.1 L502.4,157.1 L502.7,156.4 L503.0,156.1 L503.3,156.2 L503.6,156.5 L503.9,157.3 L504.2,158.3 L504.5,159.7 L504.8,161.3 L505.1,163.0 L505.4,165.0 L505.7,167.0 L506.0,169.0 L506.3,171.0 L506.6,172.9 L506.9,174.7 L507.2,176.2 L507.5,177.5 L507.8,178.5 L508.1,179.1 L508.3,179.5 L508.6,179.4 L508.9,179.0 L509.2,178.3 L509.5,177.2 L509.8,175.9 L510.1,174.3 L510.4,172.5 L510.7,170.6 L511.0,168.5 L511.3,166.5 L511.6,164.5 L511.9,162.6 L512.2,160.9 L512.5,159.3 L512.8,158.0 L513.1,157.1 L513.4,156.4 L513.7,156.1 L514.0,156.2 L514.3,156.6 L514.6,157.3 L514.9,158.4 L515.2,159.7 L515.5,161.3 L515.8,163.1 L516.1,165.1 L516.4,167.1 L516.7,169.1 L517.0,171.1 L517.2,173.0 L517.5,174.8 L517.8,176.3 L518.1,177.6 L518.4,178.5 L518.7,179.2 L519.0,179.5 L519.3,179.4 L519.6,179.0 L519.9,178.2 L520.2,177.2 L520.5,175.8 L520.8,174.2 L521.1,172.4 L521.4,170.5 L521.7,168.5 L522.0,166.4 L522.3,164.4 L522.6,162.5 L522.9,160.8 L523.2,159.3 L523.5,158.0 L523.8,157.0 L524.1,156.4 L524.4,156.1 L524.7,156.2 L525.0,156.6 L525.3,157.3 L525.6,158.4 L525.8,159.8 L526.1,161.4 L526.4,163.2 L526.7,165.1 L527.0,167.2 L527.3,169.2 L527.6,171.2 L527.9,173.1 L528.2,174.8 L528.5,176.3 L528.8,177.6 L529.1,178.6 L529.4,179.2 L529.7,179.5 L530.0,179.4 L530.3,179.0 L530.6,178.2 L530.9,177.1 L531.2,175.8 L531.5,174.1 L531.8,172.3 L532.1,170.4 L532.4,168.4 L532.7,166.3 L533.0,164.3 L533.3,162.5 L533.6,160.7 L533.9,159.2 L534.2,158.0 L534.5,157.0 L534.7,156.4 L535.0,156.1 L535.3,156.2 L535.6,156.6 L535.9,157.4 L536.2,158.5 L536.5,159.8 L536.8,161.5 L537.1,163.3 L537.4,165.2 L537.7,167.2 L538.0,169.3 L538.3,171.3 L538.6,173.2 L538.9,174.9 L539.2,176.4 L539.5,177.6 L539.8,178.6 L540.1,179.2 L540.4,179.5 L540.7,179.4 L541.0,179.0 L541.3,178.2 L541.6,177.1 L541.9,175.7 L542.2,174.1 L542.5,172.3 L542.8,170.3 L543.1,168.3 L543.3,166.3 L543.6,164.3 L543.9,162.4 L544.2,160.7 L544.5,159.2 L544.8,157.9 L545.1,157.0 L545.4,156.4 L545.7,156.1 L546.0,156.2 L546.3,156.6 L546.6,157.4 L546.9,158.5 L547.2,159.9 L547.5,161.5 L547.8,163.3 L548.1,165.3 L548.4,167.3 L548.7,169.4 L549.0,171.3 L549.3,173.2 L549.6,174.9 L549.9,176.4 L550.2,177.7 L550.5,178.6 L550.8,179.2 L551.1,179.5 L551.4,179.4 L551.7,178.9 L551.9,178.1 L552.2,177.0 L552.5,175.6 L552.8,174.0 L553.1,172.2 L553.4,170.2 L553.7,168.2 L554.0,166.2 L554.3,164.2 L554.6,162.3 L554.9,160.6 L555.2,159.1 L555.5,157.9 L555.8,156.9 L556.1,156.3 L556.4,156.1 L556.7,156.2 L557.0,156.7 L557.3,157.5 L557.6,158.6 L557.9,160.0 L558.2,161.6 L558.5,163.4 L558.8,165.4 L559.1,167.4 L559.4,169.4 L559.7,171.4 L560.0,173.3 L560.3,175.0 L560.6,176.5 L560.8,177.7 L561.1,178.6 L561.4,179.2 L561.7,179.5 L562.0,179.4 L562.3,178.9 L562.6,178.1 L562.9,177.0 L563.2,175.6 L563.5,173.9 L563.8,172.1 L564.1,170.2 L564.4,168.1 L564.7,166.1 L565.0,164.1 L565.3,162.2 L565.6,160.5 L565.9,159.0 L566.2,157.8 L566.5,156.9 L566.8,156.3 L567.1,156.1 L567.4,156.2 L567.7,156.7 L568.0,157.5 L568.3,158.6 L568.6,160.0 L568.9,161.7 L569.2,163.5 L569.4,165.5 L569.7,167.5 L570.0,169.5 L570.3,171.5 L570.6,173.4 L570.9,175.1 L571.2,176.6 L571.5,177.8 L571.8,178.7 L572.1,179.3 L572.4,179.5 L572.7,179.4 L573.0,178.9 L573.3,178.1 L573.6,176.9 L573.9,175.5 L574.2,173.9 L574.5,172.0 L574.8,170.1 L575.1,168.1 L575.4,166.0 L575.7,164.0 L576.0,162.2 L576.3,160.5 L576.6,159.0 L576.9,157.8 L577.2,156.9 L577.5,156.3 L577.8,156.1 L578.1,156.2 L578.3,156.7 L578.6,157.5 L578.9,158.7 L579.2,160.1 L579.5,161.7 L579.8,163.6 L580.1,165.5 L580.4,167.6 L580.7,169.6 L581.0,171.6 L581.3,173.4 L581.6,175.1 L581.9,176.6 L582.2,177.8 L582.5,178.7 L582.8,179.3 L583.1,179.5 L583.4,179.3 L583.7,178.8 L584.0,178.0 L584.3,176.9 L584.6,175.5 L584.9,173.8 L585.2,172.0 L585.5,170.0 L585.8,168.0 L586.1,165.9 L586.4,164.0 L586.7,162.1 L586.9,160.4 L587.2,158.9 L587.5,157.7 L587.8,156.9 L588.1,156.3 L588.4,156.1 L588.7,156.2 L589.0,156.7 L589.3,157.6 L589.6,158.7 L589.9,160.2 L590.2,161.8 L590.5,163.6 L590.8,165.6 L591.1,167.6 L591.4,169.7 L591.7,171.7 L592.0,173.5 L592.3,175.2 L592.6,176.7 L592.9,177.9 L593.2,178.7 L593.5,179.3 L593.8,179.5 L594.1,179.3 L594.4,178.8 L594.7,178.0 L595.0,176.8 L595.3,175.4 L595.6,173.7 L595.8,171.9 L596.1,169.9 L596.4,167.9 L596.7,165.9 L597.0,163.9 L597.3,162.0 L597.6,160.3 L597.9,158.9 L598.2,157.7 L598.5,156.8 L598.8,156.3 L599.1,156.1 L599.4,156.3 L599.7,156.8 L600.0,157.6 L600.3,158.8 L600.6,160.2 L600.9,161.9 L601.2,163.7 L601.5,165.7 L601.8,167.7 L602.1,169.8 L602.4,171.7 L602.7,173.6 L603.0,175.3 L603.3,176.7 L603.6,177.9 L603.9,178.8 L604.2,179.3 L604.4,179.5 L604.7,179.3 L605.0,178.8 L605.3,177.9 L605.6,176.8 L605.9,175.3 L606.2,173.7 L606.5,171.8 L606.8,169.8 L607.1,167.8 L607.4,165.8 L607.7,163.8 L608.0,161.9 L608.3,160.3 L608.6,158.8 L608.9,157.7 L609.2,156.8 L609.5,156.3 L609.8,156.1 L610.1,156.3 L610.4,156.8 L610.7,157.7 L611.0,158.8 L611.3,160.3 L611.6,161.9 L611.9,163.8 L612.2,165.8 L612.5,167.8 L612.8,169.8 L613.0,171.8 L613.3,173.7 L613.6,175.3 L613.9,176.8 L614.2,177.9 L614.5,178.8 L614.8,179.3 L615.1,179.5 L615.4,179.3 L615.7,178.8 L616.0,177.9 L616.3,176.7 L616.6,175.3 L616.9,173.6 L617.2,171.7 L617.5,169.8 L617.8,167.7 L618.1,165.7 L618.4,163.7 L618.7,161.9 L619.0,160.2 L619.3,158.8 L619.6,157.6 L619.9,156.8 L620.2,156.3 L620.5,156.1 L620.8,156.3 L621.1,156.8 L621.4,157.7 L621.7,158.9 L621.9,160.3 L622.2,162.0 L622.5,163.9 L622.8,165.9 L623.1,167.9 L623.4,169.9 L623.7,171.9 L624.0,173.7 L624.3,175.4 L624.6,176.8 L624.9,178.0 L625.2,178.8 L625.5,179.3 L625.8,179.5 L626.1,179.3 L626.4,178.7 L626.7,177.9 L627.0,176.7 L627.3,175.2 L627.6,173.5 L627.9,171.7 L628.2,169.7 L628.5,167.6 L628.8,165.6 L629.1,163.6 L629.4,161.8 L629.7,160.2 L630.0,158.7 L630.3,157.6 L630.5,156.7 L630.8,156.2 L631.1,156.1 L631.4,156.3 L631.7,156.9 L632.0,157.7 L632.3,158.9 L632.6,160.4 L632.9,162.1 L633.2,164.0 L633.5,165.9 L633.8,168.0 L634.1,170.0 L634.4,172.0 L634.7,173.8 L635.0,175.5 L635.3,176.9 L635.6,178.0 L635.9,178.8 L636.2,179.3 L636.5,179.5 L636.8,179.3 L637.1,178.7 L637.4,177.8 L637.7,176.6 L638.0,175.1 L638.3,173.4 L638.6,171.6 L638.9,169.6 L639.2,167.6 L639.4,165.5 L639.7,163.6 L640.0,161.7 L640.3,160.1 L640.6,158.7 L640.9,157.5 L641.2,156.7 L641.5,156.2 L641.8,156.1 L642.1,156.3 L642.4,156.9 L642.7,157.8 L643.0,159.0 L643.3,160.5 L643.6,162.2 L643.9,164.0 L644.2,166.0 L644.5,168.1 L644.8,170.1 L645.1,172.0 L645.4,173.9 L645.7,175.5 L646.0,176.9 L646.3,178.1 L646.6,178.9 L646.9,179.4 L647.2,179.5 L647.5,179.3 L647.8,178.7 L648.0,177.8 L648.3,176.6 L648.6,175.1 L648.9,173.4 L649.2,171.5 L649.5,169.5 L649.8,167.5 L650.1,165.5 L650.4,163.5 L650.7,161.7 L651.0,160.0 L651.3,158.6 L651.6,157.5 L651.9,156.7 L652.2,156.2 L652.5,156.1 L652.8,156.3 L653.1,156.9 L653.4,157.8 L653.7,159.0 L654.0,160.5 L654.3,162.2 L654.6,164.1 L654.9,166.1 L655.2,168.1 L655.5,170.2 L655.8,172.1 L656.1,173.9 L656.4,175.6 L656.6,177.0 L656.9,178.1 L657.2,178.9 L657.5,179.4 L657.8,179.5 L658.1,179.2 L658.4,178.6 L658.7,177.7 L659.0,176.5 L659.3,175.0 L659.6,173.3 L659.9,171.4 L660.2,169.4 L660.5,167.4 L660.8,165.4 L661.1,163.4 L661.4,161.6 L661.7,160.0 L662.0,158.6 L662.3,157.5 L662.6,156.7 L662.9,156.2 L663.2,156.1 L663.5,156.3 L663.8,156.9 L664.1,157.9 L664.4,159.1 L664.7,160.6 L665.0,162.3 L665.3,164.2 L665.5,166.2 L665.8,168.2 L666.1,170.2 L666.4,172.2 L666.7,174.0 L667.0,175.6 L667.3,177.0 L667.6,178.1 L667.9,178.9 L668.2,179.4 L668.5,179.5 L668.8,179.2 L669.1,178.6 L669.4,177.7 L669.7,176.4" fill="none" stroke="#ff0000" stroke-width="4.6" stroke-linejoin="round" stroke-linecap="butt"/>
<path d="M76.5,348.6 L76.8,346.7 L77.1,344.8 L77.4,343.0 L77.7,341.1 L78.0,339.3 L78.3,337.5 L78.6,335.8 L78.9,334.0 L79.2,333.0 L79.5,332.0 L79.8,331.0 L80.1,330.0 L80.4,329.0 L80.7,328.1 L80.9,327.1 L81.2,326.2 L81.5,324.6 L81.8,322.9 L82.1,321.3 L82.4,319.7 L82.7,318.1 L83.0,316.5 L83.3,314.9 L83.6,313.3 L83.9,312.0 L84.2,310.7 L84.5,309.4 L84.8,308.1 L85.1,306.8 L85.4,305.4 L85.7,304.1 L86.0,302.7 L86.3,301.3 L86.6,299.8 L86.9,298.4 L87.2,297.0 L87.5,295.5 L87.8,294.1 L88.1,292.7 L88.4,291.3 L88.7,289.9 L89.0,288.4 L89.3,287.0 L89.6,285.5 L89.8,284.1 L90.1,282.8 L90.4,281.4 L90.7,280.1 L91.0,278.7 L91.3,277.3 L91.6,276.0 L91.9,274.7 L92.2,273.4 L92.5,272.1 L92.8,270.8 L93.1,269.5 L93.4,268.3 L93.7,267.1 L94.0,265.9 L94.3,264.7 L94.6,263.5 L94.9,262.3 L95.2,261.0 L95.5,259.8 L95.8,258.5 L96.1,257.2 L96.4,255.9 L96.7,254.6 L97.0,253.2 L97.3,251.9 L97.6,250.6 L97.9,249.3 L98.2,248.1 L98.4,247.0 L98.7,245.9 L99.0,244.7 L99.3,243.6 L99.6,242.5 L99.9,241.4 L100.2,240.3 L100.5,238.9 L100.8,237.6 L101.1,236.3 L101.4,234.9 L101.7,233.6 L102.0,232.3 L102.3,231.0 L102.6,229.7 L102.9,228.9 L103.2,228.1 L103.5,227.3 L103.8,226.5 L104.1,225.7 L104.4,225.0 L104.7,224.2 L105.0,223.4 L105.3,221.9 L105.6,220.4 L105.9,218.9 L106.2,217.4 L106.5,215.9 L106.8,214.4 L107.0,212.9 L107.3,211.4 L107.6,211.0 L107.9,210.6 L108.2,210.1 L108.5,209.7 L108.8,209.3 L109.1,208.9 L109.4,208.6 L109.7,208.2 L110.0,206.8 L110.3,205.4 L110.6,204.0 L110.9,202.7 L111.2,201.3 L111.5,200.0 L111.8,198.6 L112.1,197.3 L112.4,196.6 L112.7,195.8 L113.0,195.1 L113.3,194.4 L113.6,193.7 L113.9,193.0 L114.2,192.3 L114.5,191.6 L114.8,190.6 L115.1,189.6 L115.4,188.7 L115.7,187.7 L115.9,186.8 L116.2,185.9 L116.5,184.9 L116.8,184.0 L117.1,183.5 L117.4,182.9 L117.7,182.4 L118.0,181.9 L118.3,181.4 L118.6,180.9 L118.9,180.4 L119.2,179.9 L119.5,179.1 L119.8,178.4 L120.1,177.6 L120.4,176.8 L120.7,176.1 L121.0,175.3 L121.3,174.6 L121.6,173.8 L121.9,172.7 L122.2,171.6 L122.5,170.5 L122.8,169.4 L123.1,168.3 L123.4,167.1 L123.7,166.0 L124.0,164.9 L124.3,164.1 L124.5,163.3 L124.8,162.5 L125.1,161.6 L125.4,160.8 L125.7,160.0 L126.0,159.2 L126.3,158.4 L126.6,158.1 L126.9,157.9 L127.2,157.6 L127.5,157.4 L127.8,157.2 L128.1,157.0 L128.4,156.8 L128.7,156.6 L129.0,155.7 L129.3,154.8 L129.6,154.0 L129.9,153.1 L130.2,152.3 L130.5,151.5 L130.8,150.7 L131.1,149.9 L131.4,149.2 L131.7,148.5 L132.0,147.9 L132.3,147.2 L132.6,146.6 L132.9,146.0 L133.2,145.3 L133.4,144.7 L133.7,144.2 L134.0,143.7 L134.3,143.1 L134.6,142.6 L134.9,142.1 L135.2,141.6 L135.5,141.1 L135.8,140.6 L136.1,140.6 L136.4,140.7 L136.7,140.7 L137.0,140.8 L137.3,140.8 L137.6,140.9 L137.9,140.9 L138.2,140.9 L138.5,140.4 L138.8,139.9 L139.1,139.4 L139.4,138.9 L139.7,138.4 L140.0,137.9 L140.3,137.5 L140.6,137.0 L140.9,136.4 L141.2,135.8 L141.5,135.2 L141.8,134.7 L142.0,134.1 L142.3,133.6 L142.6,133.1 L142.9,132.7 L143.2,131.8 L143.5,131.0 L143.8,130.2 L144.1,129.4 L144.4,128.6 L144.7,127.9 L145.0,127.1 L145.3,126.4 L145.6,126.6 L145.9,126.9 L146.2,127.2 L146.5,127.5 L146.8,127.7 L147.1,128.0 L147.4,128.3 L147.7,128.5 L148.0,128.0 L148.3,127.5 L148.6,127.0 L148.9,126.4 L149.2,125.9 L149.5,125.3 L149.8,124.8 L150.1,124.2 L150.4,123.5 L150.7,122.7 L150.9,122.0 L151.2,121.2 L151.5,120.5 L151.8,119.7 L152.1,119.0 L152.4,118.2 L152.7,118.1 L153.0,118.0 L153.3,117.9 L153.6,117.8 L153.9,117.6 L154.2,117.5 L154.5,117.4 L154.8,117.3 L155.1,116.8 L155.4,116.4 L155.7,115.9 L156.0,115.4 L156.3,114.9 L156.6,114.4 L156.9,113.9 L157.2,113.4 L157.5,113.3 L157.8,113.2 L158.1,113.0 L158.4,112.9 L158.7,112.7 L159.0,112.6 L159.3,112.4 L159.5,112.3 L159.8,111.6 L160.1,110.9 L160.4,110.3 L160.7,109.6 L161.0,109.0 L161.3,108.3 L161.6,107.7 L161.9,107.0 L162.2,106.6 L162.5,106.1 L162.8,105.6 L163.1,105.2 L163.4,104.7 L163.7,104.3 L164.0,103.8 L164.3,103.4 L164.6,103.6 L164.9,103.8 L165.2,104.0 L165.5,104.3 L165.8,104.5 L166.1,104.7 L166.4,105.0 L166.7,105.2 L167.0,104.4 L167.3,103.6 L167.6,102.8 L167.9,101.9 L168.1,101.1 L168.4,100.3 L168.7,99.5 L169.0,98.7 L169.3,98.3 L169.6,97.8 L169.9,97.4 L170.2,96.9 L170.5,96.5 L170.8,96.1 L171.1,95.6 L171.4,95.2 L171.7,95.1 L172.0,95.0 L172.3,94.9 L172.6,94.9 L172.9,94.8 L173.2,94.7 L173.5,94.7 L173.8,94.6 L174.1,94.7 L174.4,94.8 L174.7,94.9 L175.0,95.0 L175.3,95.1 L175.6,95.2 L175.9,95.3 L176.2,95.4 L176.5,94.8 L176.8,94.2 L177.0,93.6 L177.3,93.0 L177.6,92.4 L177.9,91.9 L178.2,91.3 L178.5,90.7 L178.8,90.9 L179.1,91.1 L179.4,91.3 L179.7,91.6 L180.0,91.8 L180.3,92.0 L180.6,92.2 L180.9,92.5 L181.2,92.0 L181.5,91.5 L181.8,91.0 L182.1,90.6 L182.4,90.1 L182.7,89.6 L183.0,89.2 L183.3,88.7 L183.6,88.1 L183.9,87.6 L184.2,87.0 L184.5,86.5 L184.8,85.9 L185.1,85.4 L185.4,84.8 L185.6,84.3 L185.9,84.4 L186.2,84.6 L186.5,84.8 L186.8,85.0 L187.1,85.1 L187.4,85.3 L187.7,85.5 L188.0,85.7 L188.3,85.4 L188.6,85.2 L188.9,85.0 L189.2,84.7 L189.5,84.5 L189.8,84.3 L190.1,84.0 L190.4,83.8 L190.7,83.7 L191.0,83.6 L191.3,83.5 L191.6,83.4 L191.9,83.3 L192.2,83.2 L192.5,83.2 L192.8,83.1 L193.1,83.0 L193.4,82.9 L193.7,82.8 L194.0,82.7 L194.3,82.6 L194.5,82.5 L194.8,82.4 L195.1,82.3 L195.4,81.7 L195.7,81.1 L196.0,80.5 L196.3,79.9 L196.6,79.3 L196.9,78.7 L197.2,78.1 L197.5,77.5 L197.8,77.7 L198.1,77.8 L198.4,78.0 L198.7,78.1 L199.0,78.3 L199.3,78.4 L199.6,78.5 L199.9,78.7 L200.2,78.4 L200.5,78.2 L200.8,78.0 L201.1,77.7 L201.4,77.5 L201.7,77.2 L202.0,77.0 L202.3,76.8 L202.6,76.4 L202.9,76.0 L203.1,75.7 L203.4,75.3 L203.7,75.0 L204.0,74.6 L204.3,74.3 L204.6,74.0 L204.9,74.1 L205.2,74.2 L205.5,74.4 L205.8,74.5 L206.1,74.7 L206.4,74.8 L206.7,75.0 L207.0,75.2 L207.3,74.7 L207.6,74.2 L207.9,73.8 L208.2,73.3 L208.5,72.9 L208.8,72.4 L209.1,72.0 L209.4,71.6 L209.7,71.8 L210.0,72.1 L210.3,72.3 L210.6,72.6 L210.9,72.8 L211.2,73.1 L211.5,73.3 L211.7,73.6 L212.0,73.2 L212.3,72.9 L212.6,72.6 L212.9,72.2 L213.2,71.9 L213.5,71.5 L213.8,71.2 L214.1,70.9 L214.4,70.7 L214.7,70.6 L215.0,70.5 L215.3,70.3 L215.6,70.2 L215.9,70.0 L216.2,69.9 L216.5,69.7 L216.8,70.0 L217.1,70.4 L217.4,70.7 L217.7,71.0 L218.0,71.3 L218.3,71.6 L218.6,71.9 L218.9,72.2 L219.2,71.9 L219.5,71.6 L219.8,71.3 L220.1,71.0 L220.4,70.7 L220.6,70.4 L220.9,70.1 L221.2,69.8 L221.5,69.5 L221.8,69.2 L222.1,68.9 L222.4,68.6 L222.7,68.2 L223.0,67.9 L223.3,67.6 L223.6,67.3 L223.9,67.4 L224.2,67.5 L224.5,67.5 L224.8,67.6 L225.1,67.6 L225.4,67.7 L225.7,67.8 L226.0,67.8 L226.3,67.9 L226.6,68.0 L226.9,68.2 L227.2,68.3 L227.5,68.4 L227.8,68.5 L228.1,68.6 L228.4,68.7 L228.7,68.3 L229.0,67.8 L229.2,67.4 L229.5,66.9 L229.8,66.5 L230.1,66.0 L230.4,65.6 L230.7,65.1 L231.0,65.0 L231.3,64.8 L231.6,64.6 L231.9,64.4 L232.2,64.3 L232.5,64.1 L232.8,64.0 L233.1,63.8 L233.4,63.9 L233.7,64.0 L234.0,64.1 L234.3,64.1 L234.6,64.2 L234.9,64.3 L235.2,64.4 L235.5,64.5 L235.8,64.2 L236.1,63.9 L236.4,63.6 L236.7,63.2 L237.0,62.9 L237.3,62.5 L237.6,62.2 L237.9,61.8 L238.1,61.9 L238.4,62.1 L238.7,62.2 L239.0,62.3 L239.3,62.4 L239.6,62.5 L239.9,62.6 L240.2,62.7 L240.5,62.3 L240.8,61.9 L241.1,61.5 L241.4,61.2 L241.7,60.8 L242.0,60.5 L242.3,60.1 L242.6,59.8 L242.9,60.3 L243.2,60.7 L243.5,61.2 L243.8,61.6 L244.1,62.1 L244.4,62.6 L244.7,63.1 L245.0,63.5 L245.3,63.5 L245.6,63.5 L245.9,63.4 L246.2,63.4 L246.5,63.4 L246.7,63.3 L247.0,63.2 L247.3,63.2 L247.6,62.6 L247.9,62.1 L248.2,61.5 L248.5,60.9 L248.8,60.3 L249.1,59.8 L249.4,59.2 L249.7,58.6 L250.0,58.7 L250.3,58.8 L250.6,59.0 L250.9,59.1 L251.2,59.3 L251.5,59.4 L251.8,59.5 L252.1,59.7 L252.4,59.8 L252.7,59.8 L253.0,59.9 L253.3,59.9 L253.6,60.0 L253.9,60.1 L254.2,60.2 L254.5,60.2 L254.8,59.6 L255.1,59.0 L255.3,58.4 L255.6,57.9 L255.9,57.3 L256.2,56.7 L256.5,56.0 L256.8,55.4 L257.1,55.7 L257.4,56.0 L257.7,56.3 L258.0,56.6 L258.3,56.9 L258.6,57.2 L258.9,57.5 L259.2,57.8 L259.5,57.4 L259.8,57.0 L260.1,56.7 L260.4,56.3 L260.7,56.0 L261.0,55.7 L261.3,55.3 L261.6,55.0 L261.9,55.0 L262.2,55.0 L262.5,55.1 L262.8,55.1 L263.1,55.1 L263.4,55.2 L263.7,55.2 L264.0,55.3 L264.2,55.2 L264.5,55.1 L264.8,55.0 L265.1,54.9 L265.4,54.8 L265.7,54.7 L266.0,54.6 L266.3,54.5 L266.6,54.6 L266.9,54.7 L267.2,54.9 L267.5,55.0 L267.8,55.1 L268.1,55.2 L268.4,55.2 L268.7,55.3 L269.0,55.2 L269.3,55.0 L269.6,54.8 L269.9,54.6 L270.2,54.4 L270.5,54.2 L270.8,54.1 L271.1,53.9 L271.4,54.1 L271.7,54.3 L272.0,54.6 L272.3,54.8 L272.6,55.0 L272.8,55.3 L273.1,55.5 L273.4,55.7 L273.7,55.8 L274.0,55.8 L274.3,55.8 L274.6,55.8 L274.9,55.9 L275.2,55.9 L275.5,55.9 L275.8,55.9 L276.1,55.4 L276.4,55.0 L276.7,54.5 L277.0,54.0 L277.3,53.5 L277.6,53.1 L277.9,52.6 L278.2,52.1 L278.5,52.4 L278.8,52.7 L279.1,53.0 L279.4,53.3 L279.7,53.6 L280.0,53.9 L280.3,54.2 L280.6,54.5 L280.9,54.2 L281.2,53.8 L281.5,53.5 L281.7,53.2 L282.0,52.9 L282.3,52.5 L282.6,52.2 L282.9,51.9 L283.2,52.2 L283.5,52.5 L283.8,52.7 L284.1,53.0 L284.4,53.2 L284.7,53.4 L285.0,53.7 L285.3,53.9 L285.6,53.9 L285.9,53.9 L286.2,53.9 L286.5,53.9 L286.8,53.9 L287.1,53.9 L287.4,53.8 L287.7,53.8 L288.0,54.1 L288.3,54.3 L288.6,54.6 L288.9,54.8 L289.2,55.1 L289.5,55.4 L289.8,55.6 L290.1,55.8 L290.3,55.2 L290.6,54.5 L290.9,53.9 L291.2,53.2 L291.5,52.5 L291.8,51.9 L292.1,51.2 L292.4,50.6 L292.7,50.9 L293.0,51.1 L293.3,51.4 L293.6,51.7 L293.9,52.0 L294.2,52.3 L294.5,52.6 L294.8,52.9 L295.1,52.8 L295.4,52.8 L295.7,52.7 L296.0,52.6 L296.3,52.6 L296.6,52.5 L296.9,52.4 L297.2,52.4 L297.5,52.5 L297.8,52.7 L298.1,52.8 L298.4,52.9 L298.7,53.1 L298.9,53.2 L299.2,53.3 L299.5,53.4 L299.8,53.5 L300.1,53.6 L300.4,53.6 L300.7,53.7 L301.0,53.8 L301.3,53.8 L301.6,53.9 L301.9,53.9 L302.2,53.4 L302.5,52.8 L302.8,52.3 L303.1,51.8 L303.4,51.3 L303.7,50.8 L304.0,50.3 L304.3,49.8 L304.6,49.9 L304.9,50.1 L305.2,50.4 L305.5,50.6 L305.8,50.8 L306.1,51.0 L306.4,51.2 L306.7,51.5 L307.0,51.8 L307.3,52.2 L307.6,52.6 L307.8,53.0 L308.1,53.4 L308.4,53.8 L308.7,54.2 L309.0,54.5 L309.3,54.1 L309.6,53.7 L309.9,53.2 L310.2,52.8 L310.5,52.3 L310.8,51.8 L311.1,51.4 L311.4,50.9 L311.7,51.0 L312.0,51.2 L312.3,51.3 L312.6,51.5 L312.9,51.6 L313.2,51.8 L313.5,51.9 L313.8,52.1 L314.1,51.9 L314.4,51.8 L314.7,51.6 L315.0,51.5 L315.3,51.3 L315.6,51.2 L315.9,51.0 L316.2,50.9 L316.4,50.6 L316.7,50.4 L317.0,50.2 L317.3,49.9 L317.6,49.7 L317.9,49.5 L318.2,49.2 L318.5,49.0 L318.8,49.4 L319.1,49.8 L319.4,50.2 L319.7,50.5 L320.0,50.9 L320.3,51.3 L320.6,51.7 L320.9,52.0 L321.2,51.7 L321.5,51.3 L321.8,51.0 L322.1,50.6 L322.4,50.2 L322.7,49.9 L323.0,49.5 L323.3,49.1 L323.6,49.3 L323.9,49.5 L324.2,49.7 L324.5,49.8 L324.8,50.0 L325.1,50.2 L325.3,50.3 L325.6,50.5 L325.9,50.9 L326.2,51.3 L326.5,51.7 L326.8,52.1 L327.1,52.4 L327.4,52.8 L327.7,53.2 L328.0,53.6 L328.3,52.9 L328.6,52.3 L328.9,51.7 L329.2,51.0 L329.5,50.4 L329.8,49.7 L330.1,49.1 L330.4,48.5 L330.7,48.6 L331.0,48.7 L331.3,48.9 L331.6,49.0 L331.9,49.2 L332.2,49.3 L332.5,49.5 L332.8,49.6 L333.1,49.4 L333.4,49.2 L333.7,49.0 L333.9,48.8 L334.2,48.5 L334.5,48.3 L334.8,48.1 L335.1,47.9 L335.4,48.4 L335.7,48.9 L336.0,49.5 L336.3,50.0 L336.6,50.5 L336.9,51.0 L337.2,51.5 L337.5,52.0 L337.8,52.0 L338.1,52.0 L338.4,51.9 L338.7,51.8 L339.0,51.8 L339.3,51.7 L339.6,51.7 L339.9,51.6 L340.2,51.0 L340.5,50.4 L340.8,49.8 L341.1,49.2 L341.4,48.6 L341.7,48.0 L342.0,47.4 L342.3,46.8 L342.6,46.9 L342.8,47.1 L343.1,47.2 L343.4,47.4 L343.7,47.6 L344.0,47.8 L344.3,47.9 L344.6,48.1 L344.9,48.6 L345.2,49.0 L345.5,49.5 L345.8,49.9 L346.1,50.4 L346.4,50.8 L346.7,51.3 L347.0,51.7 L347.3,51.2 L347.6,50.7 L347.9,50.3 L348.2,49.8 L348.5,49.3 L348.8,48.8 L349.1,48.3 L349.4,47.8 L349.7,47.7 L350.0,47.7 L350.3,47.7 L350.6,47.6 L350.9,47.6 L351.2,47.6 L351.4,47.6 L351.7,47.5 L352.0,47.4 L352.3,47.3 L352.6,47.2 L352.9,47.1 L353.2,47.0 L353.5,46.9 L353.8,46.8 L354.1,46.7 L354.4,46.8 L354.7,47.0 L355.0,47.2 L355.3,47.3 L355.6,47.5 L355.9,47.6 L356.2,47.8 L356.5,48.0 L356.8,48.4 L357.1,48.8 L357.4,49.2 L357.7,49.6 L358.0,50.0 L358.3,50.3 L358.6,50.7 L358.9,51.1 L359.2,51.2 L359.5,51.2 L359.8,51.3 L360.0,51.4 L360.3,51.4 L360.6,51.5 L360.9,51.5 L361.2,51.6 L361.5,51.6 L361.8,51.5 L362.1,51.5 L362.4,51.5 L362.7,51.5 L363.0,51.5 L363.3,51.4 L363.6,51.4 L363.9,51.4 L364.2,51.4 L364.5,51.4 L364.8,51.4 L365.1,51.4 L365.4,51.3 L365.7,51.3 L366.0,51.3 L366.3,51.2 L366.6,51.0 L366.9,50.8 L367.2,50.7 L367.5,50.5 L367.8,50.4 L368.1,50.2 L368.4,50.0 L368.7,49.6 L368.9,49.2 L369.2,48.8 L369.5,48.3 L369.8,47.9 L370.1,47.5 L370.4,47.1 L370.7,46.6 L371.0,46.9 L371.3,47.1 L371.6,47.3 L371.9,47.5 L372.2,47.7 L372.5,48.0 L372.8,48.2 L373.1,48.4 L373.4,48.4 L373.7,48.4 L374.0,48.4 L374.3,48.4 L374.6,48.4 L374.9,48.4 L375.2,48.3 L375.5,48.3 L375.8,48.1 L376.1,47.9 L376.4,47.7 L376.7,47.5 L377.0,47.3 L377.3,47.1 L377.5,46.9 L377.8,46.7 L378.1,47.2 L378.4,47.7 L378.7,48.2 L379.0,48.7 L379.3,49.2 L379.6,49.7 L379.9,50.2 L380.2,50.8 L380.5,50.7 L380.8,50.7 L381.1,50.6 L381.4,50.6 L381.7,50.5 L382.0,50.5 L382.3,50.5 L382.6,50.4 L382.9,50.3 L383.2,50.1 L383.5,50.0 L383.8,49.8 L384.1,49.7 L384.4,49.5 L384.7,49.3 L385.0,49.1 L385.3,48.9 L385.6,48.6 L385.9,48.4 L386.2,48.1 L386.4,47.8 L386.7,47.5 L387.0,47.2 L387.3,46.9 L387.6,47.2 L387.9,47.4 L388.2,47.7 L388.5,47.9 L388.8,48.2 L389.1,48.4 L389.4,48.7 L389.7,49.0 L390.0,49.3 L390.3,49.7 L390.6,50.1 L390.9,50.5 L391.2,50.9 L391.5,51.3 L391.8,51.7 L392.1,52.1 L392.4,51.6 L392.7,51.1 L393.0,50.6 L393.3,50.1 L393.6,49.6 L393.9,49.1 L394.2,48.6 L394.5,48.1 L394.8,48.5 L395.0,48.8 L395.3,49.2 L395.6,49.6 L395.9,49.9 L396.2,50.3 L396.5,50.6 L396.8,51.0 L397.1,50.5 L397.4,50.1 L397.7,49.7 L398.0,49.2 L398.3,48.8 L398.6,48.3 L398.9,47.9 L399.2,47.5 L399.5,47.7 L399.8,47.9 L400.1,48.2 L400.4,48.4 L400.7,48.7 L401.0,48.9 L401.3,49.2 L401.6,49.4 L401.9,49.1 L402.2,48.8 L402.5,48.4 L402.8,48.1 L403.1,47.8 L403.4,47.5 L403.6,47.2 L403.9,46.9 L404.2,47.0 L404.5,47.2 L404.8,47.3 L405.1,47.4 L405.4,47.6 L405.7,47.7 L406.0,47.9 L406.3,48.0 L406.6,48.2 L406.9,48.4 L407.2,48.6 L407.5,48.8 L407.8,49.0 L408.1,49.2 L408.4,49.4 L408.7,49.6 L409.0,49.9 L409.3,50.2 L409.6,50.5 L409.9,50.8 L410.2,51.1 L410.5,51.4 L410.8,51.6 L411.1,51.9 L411.4,52.0 L411.7,52.0 L412.0,52.0 L412.3,52.1 L412.5,52.1 L412.8,52.1 L413.1,52.1 L413.4,52.2 L413.7,52.1 L414.0,52.0 L414.3,52.0 L414.6,51.9 L414.9,51.9 L415.2,51.8 L415.5,51.7 L415.8,51.7 L416.1,51.7 L416.4,51.8 L416.7,51.8 L417.0,51.9 L417.3,51.9 L417.6,52.0 L417.9,52.1 L418.2,52.1 L418.5,52.1 L418.8,52.1 L419.1,52.1 L419.4,52.0 L419.7,52.0 L420.0,52.0 L420.3,52.0 L420.6,52.0 L420.9,51.9 L421.1,51.9 L421.4,51.8 L421.7,51.7 L422.0,51.6 L422.3,51.6 L422.6,51.5 L422.9,51.4 L423.2,51.0 L423.5,50.7 L423.8,50.3 L424.1,49.9 L424.4,49.5 L424.7,49.1 L425.0,48.8 L425.3,48.4 L425.6,48.4 L425.9,48.5 L426.2,48.6 L426.5,48.6 L426.8,48.7 L427.1,48.8 L427.4,48.9 L427.7,49.0 L428.0,49.4 L428.3,49.7 L428.6,50.1 L428.9,50.5 L429.2,51.0 L429.5,51.4 L429.8,51.8 L430.0,52.2 L430.3,52.2 L430.6,52.2 L430.9,52.3 L431.2,52.3 L431.5,52.3 L431.8,52.3 L432.1,52.3 L432.4,52.2 L432.7,51.6 L433.0,51.0 L433.3,50.4 L433.6,49.8 L433.9,49.2 L434.2,48.5 L434.5,47.9 L434.8,47.3 L435.1,47.5 L435.4,47.8 L435.7,48.0 L436.0,48.2 L436.3,48.5 L436.6,48.7 L436.9,49.0 L437.2,49.3 L437.5,49.5 L437.8,49.7 L438.1,50.0 L438.4,50.2 L438.6,50.5 L438.9,50.8 L439.2,51.0 L439.5,51.3 L439.8,51.3 L440.1,51.3 L440.4,51.3 L440.7,51.3 L441.0,51.2 L441.3,51.2 L441.6,51.2 L441.9,51.2 L442.2,50.9 L442.5,50.6 L442.8,50.2 L443.1,49.9 L443.4,49.6 L443.7,49.2 L444.0,48.9 L444.3,48.6 L444.6,48.9 L444.9,49.3 L445.2,49.7 L445.5,50.0 L445.8,50.4 L446.1,50.7 L446.4,51.1 L446.7,51.5 L447.0,51.2 L447.2,50.9 L447.5,50.6 L447.8,50.3 L448.1,50.0 L448.4,49.8 L448.7,49.5 L449.0,49.2 L449.3,48.9 L449.6,48.6 L449.9,48.3 L450.2,48.0 L450.5,47.7 L450.8,47.4 L451.1,47.2 L451.4,46.9 L451.7,46.9 L452.0,47.0 L452.3,47.0 L452.6,47.1 L452.9,47.2 L453.2,47.2 L453.5,47.3 L453.8,47.4 L454.1,47.8 L454.4,48.2 L454.7,48.6 L455.0,49.1 L455.3,49.5 L455.6,50.0 L455.9,50.4 L456.1,50.9 L456.4,50.8 L456.7,50.7 L457.0,50.6 L457.3,50.5 L457.6,50.4 L457.9,50.3 L458.2,50.2 L458.5,50.2 L458.8,50.2 L459.1,50.1 L459.4,50.1 L459.7,50.1 L460.0,50.1 L460.3,50.0 L460.6,50.0 L460.9,49.9 L461.2,49.7 L461.5,49.6 L461.8,49.4 L462.1,49.2 L462.4,49.0 L462.7,48.8 L463.0,48.6 L463.3,48.4 L463.6,48.8 L463.9,49.2 L464.2,49.6 L464.5,50.0 L464.7,50.4 L465.0,50.8 L465.3,51.2 L465.6,51.6 L465.9,51.7 L466.2,51.8 L466.5,51.9 L466.8,52.0 L467.1,52.1 L467.4,52.3 L467.7,52.4 L468.0,52.6 L468.3,52.6 L468.6,52.6 L468.9,52.6 L469.2,52.7 L469.5,52.7 L469.8,52.7 L470.1,52.8 L470.4,52.8 L470.7,52.6 L471.0,52.3 L471.3,52.1 L471.6,51.9 L471.9,51.6 L472.2,51.4 L472.5,51.1 L472.8,50.9 L473.1,50.8 L473.4,50.7 L473.6,50.7 L473.9,50.6 L474.2,50.5 L474.5,50.5 L474.8,50.4 L475.1,50.3 L475.4,50.3 L475.7,50.3 L476.0,50.4 L476.3,50.4 L476.6,50.4 L476.9,50.4 L477.2,50.4 L477.5,50.4 L477.8,50.6 L478.1,50.8 L478.4,50.9 L478.7,51.1 L479.0,51.3 L479.3,51.4 L479.6,51.6 L479.9,51.8 L480.2,51.3 L480.5,50.9 L480.8,50.5 L481.1,50.0 L481.4,49.6 L481.7,49.2 L482.0,48.7 L482.2,48.3 L482.5,48.6 L482.8,48.9 L483.1,49.3 L483.4,49.7 L483.7,50.2 L484.0,50.8 L484.3,51.4 L484.6,52.0 L484.9,52.5 L485.2,53.1 L485.5,53.6 L485.8,54.1 L486.1,54.6 L486.4,55.1 L486.7,55.6 L487.0,56.0 L487.3,56.1 L487.6,56.2 L487.9,56.2 L488.2,56.1 L488.5,55.9 L488.8,55.7 L489.1,55.5 L489.4,55.3 L489.7,55.0 L490.0,54.7 L490.3,54.4 L490.6,54.1 L490.9,53.8 L491.1,53.5 L491.4,53.2 L491.7,52.9 L492.0,52.8 L492.3,52.6 L492.6,52.5 L492.9,52.4 L493.2,52.3 L493.5,52.3 L493.8,52.2 L494.1,52.2 L494.4,52.4 L494.7,52.7 L495.0,52.9 L495.3,53.2 L495.6,53.4 L495.9,53.7 L496.2,53.9 L496.5,54.2 L496.8,54.3 L497.1,54.4 L497.4,54.5 L497.7,54.5 L498.0,54.6 L498.3,54.7 L498.6,54.7 L498.9,54.8 L499.2,54.5 L499.5,54.2 L499.7,53.8 L500.0,53.5 L500.3,53.2 L500.6,52.9 L500.9,52.5 L501.2,52.2 L501.5,51.9 L501.8,51.6 L502.1,51.3 L502.4,51.1 L502.7,50.8 L503.0,50.5 L503.3,50.3 L503.6,50.1 L503.9,50.4 L504.2,50.6 L504.5,50.9 L504.8,51.3 L505.1,51.6 L505.4,51.9 L505.7,52.2 L506.0,52.6 L506.3,52.3 L506.6,52.0 L506.9,51.7 L507.2,51.4 L507.5,51.0 L507.8,50.7 L508.1,50.4 L508.3,50.1 L508.6,50.5 L508.9,51.0 L509.2,51.5 L509.5,51.9 L509.8,52.4 L510.1,52.8 L510.4,53.2 L510.7,53.7 L511.0,53.5 L511.3,53.3 L511.6,53.1 L511.9,52.9 L512.2,52.7 L512.5,52.5 L512.8,52.3 L513.1,52.1 L513.4,51.7 L513.7,51.3 L514.0,50.8 L514.3,50.4 L514.6,50.0 L514.9,49.6 L515.2,49.2 L515.5,48.7 L515.8,49.1 L516.1,49.5 L516.4,49.9 L516.7,50.3 L517.0,50.7 L517.2,51.0 L517.5,51.4 L517.8,51.8 L518.1,51.5 L518.4,51.2 L518.7,50.9 L519.0,50.6 L519.3,50.3 L519.6,50.0 L519.9,49.7 L520.2,49.4 L520.5,49.5 L520.8,49.6 L521.1,49.7 L521.4,49.7 L521.7,49.8 L522.0,49.9 L522.3,49.9 L522.6,49.9 L522.9,49.6 L523.2,49.3 L523.5,48.9 L523.8,48.5 L524.1,48.2 L524.4,47.8 L524.7,47.4 L525.0,47.0 L525.3,47.3 L525.6,47.6 L525.8,48.0 L526.1,48.3 L526.4,48.6 L526.7,48.9 L527.0,49.2 L527.3,49.6 L527.6,49.6 L527.9,49.6 L528.2,49.6 L528.5,49.7 L528.8,49.7 L529.1,49.8 L529.4,49.9 L529.7,50.1 L530.0,49.7 L530.3,49.4 L530.6,49.1 L530.9,48.9 L531.2,48.6 L531.5,48.5 L531.8,48.3 L532.1,48.2 L532.4,48.6 L532.7,48.9 L533.0,49.3 L533.3,49.7 L533.6,50.1 L533.9,50.5 L534.2,50.9 L534.5,51.3 L534.7,51.6 L535.0,51.9 L535.3,52.1 L535.6,52.4 L535.9,52.5 L536.2,52.7 L536.5,52.8 L536.8,52.8 L537.1,52.9 L537.4,52.9 L537.7,52.8 L538.0,52.6 L538.3,52.3 L538.6,52.0 L538.9,51.6 L539.2,51.1 L539.5,51.3 L539.8,51.4 L540.1,51.5 L540.4,51.6 L540.7,51.7 L541.0,51.9 L541.3,52.1 L541.6,52.4 L541.9,51.9 L542.2,51.5 L542.5,51.3 L542.8,51.1 L543.1,50.9 L543.3,50.8 L543.6,50.7 L543.9,50.6 L544.2,50.4 L544.5,50.2 L544.8,50.0 L545.1,49.8 L545.4,49.7 L545.7,49.5 L546.0,49.3 L546.3,49.1 L546.6,48.9 L546.9,48.7 L547.2,48.5 L547.5,48.3 L547.8,48.1 L548.1,47.9 L548.4,47.7 L548.7,47.5 L549.0,47.5 L549.3,47.4 L549.6,47.4 L549.9,47.4 L550.2,47.4 L550.5,47.4 L550.8,47.3 L551.1,47.3 L551.4,47.5 L551.7,47.8 L551.9,48.0 L552.2,48.3 L552.5,48.5 L552.8,48.8 L553.1,49.1 L553.4,49.4 L553.7,49.1 L554.0,48.9 L554.3,48.7 L554.6,48.5 L554.9,48.3 L555.2,48.1 L555.5,47.9 L555.8,47.7 L556.1,47.9 L556.4,48.2 L556.7,48.4 L557.0,48.7 L557.3,48.9 L557.6,49.2 L557.9,49.5 L558.2,49.7 L558.5,49.9 L558.8,50.2 L559.1,50.4 L559.4,50.6 L559.7,50.8 L560.0,51.1 L560.3,51.3 L560.6,51.5 L560.8,51.4 L561.1,51.4 L561.4,51.3 L561.7,51.3 L562.0,51.2 L562.3,51.1 L562.6,51.0 L562.9,51.0 L563.2,50.9 L563.5,50.8 L563.8,50.7 L564.1,50.6 L564.4,50.5 L564.7,50.3 L565.0,50.2 L565.3,50.1 L565.6,50.2 L565.9,50.2 L566.2,50.2 L566.5,50.2 L566.8,50.2 L567.1,50.2 L567.4,50.3 L567.7,50.3 L568.0,50.0 L568.3,49.7 L568.6,49.5 L568.9,49.2 L569.2,48.9 L569.4,48.6 L569.7,48.3 L570.0,48.1 L570.3,48.0 L570.6,48.0 L570.9,48.0 L571.2,48.0 L571.5,48.0 L571.8,47.9 L572.1,47.9 L572.4,47.9 L572.7,48.2 L573.0,48.6 L573.3,48.9 L573.6,49.2 L573.9,49.6 L574.2,49.9 L574.5,50.3 L574.8,50.7 L575.1,50.3 L575.4,49.9 L575.7,49.5 L576.0,49.2 L576.3,48.8 L576.6,48.5 L576.9,48.1 L577.2,47.7 L577.5,48.3 L577.8,48.9 L578.1,49.5 L578.3,50.0 L578.6,50.6 L578.9,51.2 L579.2,51.7 L579.5,52.3 L579.8,52.4 L580.1,52.4 L580.4,52.5 L580.7,52.5 L581.0,52.6 L581.3,52.6 L581.6,52.6 L581.9,52.7 L582.2,52.6 L582.5,52.6 L582.8,52.6 L583.1,52.6 L583.4,52.6 L583.7,52.5 L584.0,52.5 L584.3,52.5 L584.6,52.2 L584.9,51.9 L585.2,51.6 L585.5,51.3 L585.8,51.0 L586.1,50.7 L586.4,50.4 L586.7,50.1 L586.9,50.4 L587.2,50.7 L587.5,51.0 L587.8,51.3 L588.1,51.5 L588.4,51.8 L588.7,52.1 L589.0,52.4 L589.3,51.8 L589.6,51.1 L589.9,50.4 L590.2,49.8 L590.5,49.1 L590.8,48.5 L591.1,47.8 L591.4,47.2 L591.7,47.3 L592.0,47.4 L592.3,47.5 L592.6,47.6 L592.9,47.7 L593.2,47.8 L593.5,47.9 L593.8,48.0 L594.1,48.6 L594.4,49.2 L594.7,49.8 L595.0,50.4 L595.3,51.0 L595.6,51.6 L595.8,52.2 L596.1,52.8 L596.4,52.8 L596.7,52.7 L597.0,52.6 L597.3,52.6 L597.6,52.5 L597.9,52.4 L598.2,52.3 L598.5,52.2 L598.8,52.1 L599.1,51.9 L599.4,51.8 L599.7,51.7 L600.0,51.5 L600.3,51.4 L600.6,51.2 L600.9,51.0 L601.2,51.1 L601.5,51.2 L601.8,51.3 L602.1,51.4 L602.4,51.5 L602.7,51.6 L603.0,51.7 L603.3,51.8 L603.6,51.4 L603.9,50.9 L604.2,50.5 L604.4,50.0 L604.7,49.6 L605.0,49.2 L605.3,48.8 L605.6,48.4 L605.9,48.7 L606.2,49.1 L606.5,49.5 L606.8,49.9 L607.1,50.2 L607.4,50.6 L607.7,51.0 L608.0,51.3 L608.3,51.0 L608.6,50.6 L608.9,50.3 L609.2,49.9 L609.5,49.5 L609.8,49.2 L610.1,48.8 L610.4,48.4 L610.7,48.7 L611.0,48.9 L611.3,49.2 L611.6,49.4 L611.9,49.6 L612.2,49.9 L612.5,50.1 L612.8,50.3 L613.0,50.1 L613.3,49.9 L613.6,49.7 L613.9,49.4 L614.2,49.2 L614.5,49.0 L614.8,48.7 L615.1,48.5 L615.4,48.5 L615.7,48.4 L616.0,48.4 L616.3,48.4 L616.6,48.4 L616.9,48.4 L617.2,48.4 L617.5,48.4 L617.8,48.3 L618.1,48.2 L618.4,48.2 L618.7,48.1 L619.0,48.1 L619.3,48.0 L619.6,48.0 L619.9,47.9 L620.2,48.2 L620.5,48.5 L620.8,48.8 L621.1,49.1 L621.4,49.4 L621.7,49.7 L621.9,50.0 L622.2,50.3 L622.5,50.2 L622.8,50.1 L623.1,50.1 L623.4,50.0 L623.7,49.9 L624.0,49.8 L624.3,49.8 L624.6,49.7 L624.9,49.5 L625.2,49.3 L625.5,49.1 L625.8,48.9 L626.1,48.7 L626.4,48.5 L626.7,48.3 L627.0,48.2 L627.3,48.5 L627.6,48.8 L627.9,49.2 L628.2,49.5 L628.5,49.8 L628.8,50.2 L629.1,50.5 L629.4,50.8 L629.7,50.7 L630.0,50.6 L630.3,50.4 L630.5,50.3 L630.8,50.1 L631.1,50.0 L631.4,49.9 L631.7,49.7 L632.0,49.7 L632.3,49.6 L632.6,49.5 L632.9,49.5 L633.2,49.4 L633.5,49.4 L633.8,49.3 L634.1,49.2 L634.4,49.7 L634.7,50.1 L635.0,50.5 L635.3,50.9 L635.6,51.3 L635.9,51.7 L636.2,52.1 L636.5,52.5 L636.8,52.1 L637.1,51.8 L637.4,51.4 L637.7,51.0 L638.0,50.6 L638.3,50.2 L638.6,49.8 L638.9,49.4 L639.2,49.5 L639.4,49.6 L639.7,49.7 L640.0,49.8 L640.3,49.9 L640.6,50.0 L640.9,50.1 L641.2,50.2 L641.5,50.0 L641.8,49.7 L642.1,49.5 L642.4,49.2 L642.7,49.0 L643.0,48.7 L643.3,48.5 L643.6,48.2 L643.9,48.6 L644.2,48.9 L644.5,49.2 L644.8,49.6 L645.1,49.9 L645.4,50.3 L645.7,50.6 L646.0,50.9 L646.3,50.5 L646.6,50.1 L646.9,49.8 L647.2,49.4 L647.5,49.0 L647.8,48.6 L648.0,48.2 L648.3,47.8 L648.6,48.0 L648.9,48.2 L649.2,48.4 L649.5,48.6 L649.8,48.8 L650.1,49.1 L650.4,49.3 L650.7,49.5 L651.0,49.8 L651.3,50.0 L651.6,50.3 L651.9,50.6 L652.2,50.8 L652.5,51.1 L652.8,51.4 L653.1,51.6 L653.4,51.2 L653.7,50.8 L654.0,50.4 L654.3,49.9 L654.6,49.5 L654.9,49.1 L655.2,48.7 L655.5,48.2 L655.8,48.3 L656.1,48.4 L656.4,48.5 L656.6,48.6 L656.9,48.7 L657.2,48.8 L657.5,48.9 L657.8,49.0 L658.1,49.3 L658.4,49.7 L658.7,50.1 L659.0,50.4 L659.3,50.8 L659.6,51.2 L659.9,51.6 L660.2,51.9 L660.5,51.7 L660.8,51.5 L661.1,51.3 L661.4,51.1 L661.7,50.8 L662.0,50.6 L662.3,50.4 L662.6,50.2 L662.9,50.1 L663.2,50.0 L663.5,49.9 L663.8,49.7 L664.1,49.6 L664.4,49.5 L664.7,49.4 L665.0,49.2 L665.3,49.1 L665.5,49.0 L665.8,48.9 L666.1,48.7 L666.4,48.6 L666.7,48.5 L667.0,48.3 L667.3,48.2 L667.6,48.8 L667.9,49.5 L668.2,50.1 L668.5,50.7 L668.8,51.4 L669.1,52.0 L669.4,52.6 L669.7,53.3" fill="none" stroke="#00ff00" stroke-width="4.9" stroke-linejoin="round" stroke-linecap="butt"/>
<path d="M76.5,354.5 L76.8,354.4 L77.1,354.6 L77.4,355.1 L77.7,355.9 L78.0,357.0 L78.3,358.2 L78.6,359.6 L78.9,361.1 L79.2,362.7 L79.5,364.2 L79.8,365.6 L80.1,366.9 L80.4,368.0 L80.7,368.9 L80.9,369.4 L81.2,369.6 L81.5,369.5 L81.8,368.8 L82.1,367.8 L82.4,366.4 L82.7,364.6 L83.0,362.4 L83.3,359.9 L83.6,357.1 L83.9,354.2 L84.2,351.1 L84.5,347.9 L84.8,344.7 L85.1,341.5 L85.4,338.5 L85.7,335.7 L86.0,333.1 L86.3,330.8 L86.6,328.9 L86.9,327.3 L87.2,326.1 L87.5,325.2 L87.8,324.8 L88.1,324.8 L88.4,325.1 L88.7,325.7 L89.0,326.5 L89.3,327.5 L89.6,328.7 L89.8,329.9 L90.1,331.1 L90.4,332.3 L90.7,333.3 L91.0,334.1 L91.3,334.8 L91.6,335.1 L91.9,335.1 L92.2,334.8 L92.5,334.1 L92.8,333.0 L93.1,331.6 L93.4,329.9 L93.7,327.9 L94.0,325.5 L94.3,323.0 L94.6,320.3 L94.9,317.4 L95.2,314.5 L95.5,311.6 L95.8,308.8 L96.1,306.1 L96.4,303.6 L96.7,301.3 L97.0,299.3 L97.3,297.6 L97.6,296.3 L97.9,295.3 L98.2,294.7 L98.4,294.4 L98.7,294.5 L99.0,294.9 L99.3,295.6 L99.6,296.4 L99.9,297.5 L100.2,298.7 L100.5,299.9 L100.8,301.1 L101.1,302.3 L101.4,303.3 L101.7,304.1 L102.0,304.7 L102.3,305.0 L102.6,305.0 L102.9,304.7 L103.2,304.0 L103.5,303.0 L103.8,301.6 L104.1,299.8 L104.4,297.8 L104.7,295.4 L105.0,292.9 L105.3,290.2 L105.6,287.3 L105.9,284.4 L106.2,281.6 L106.5,278.8 L106.8,276.1 L107.0,273.6 L107.3,271.4 L107.6,269.5 L107.9,267.8 L108.2,266.6 L108.5,265.7 L108.8,265.1 L109.1,264.9 L109.4,265.1 L109.7,265.6 L110.0,266.3 L110.3,267.3 L110.6,268.5 L110.9,269.8 L111.2,271.1 L111.5,272.5 L111.8,273.7 L112.1,274.9 L112.4,275.8 L112.7,276.5 L113.0,277.0 L113.3,277.1 L113.6,276.9 L113.9,276.3 L114.2,275.4 L114.5,274.1 L114.8,272.5 L115.1,270.6 L115.4,268.4 L115.7,266.0 L115.9,263.4 L116.2,260.7 L116.5,258.0 L116.8,255.2 L117.1,252.6 L117.4,250.0 L117.7,247.7 L118.0,245.6 L118.3,243.8 L118.6,242.3 L118.9,241.2 L119.2,240.4 L119.5,240.0 L119.8,239.9 L120.1,240.2 L120.4,240.7 L120.7,241.6 L121.0,242.6 L121.3,243.9 L121.6,245.2 L121.9,246.6 L122.2,248.0 L122.5,249.4 L122.8,250.6 L123.1,251.6 L123.4,252.3 L123.7,252.8 L124.0,253.0 L124.3,252.8 L124.5,252.3 L124.8,251.4 L125.1,250.1 L125.4,248.6 L125.7,246.7 L126.0,244.5 L126.3,242.2 L126.6,239.6 L126.9,237.0 L127.2,234.3 L127.5,231.6 L127.8,229.1 L128.1,226.6 L128.4,224.3 L128.7,222.3 L129.0,220.6 L129.3,219.2 L129.6,218.2 L129.9,217.5 L130.2,217.2 L130.5,217.2 L130.8,217.6 L131.1,218.3 L131.4,219.3 L131.7,220.5 L132.0,221.9 L132.3,223.4 L132.6,224.9 L132.9,226.4 L133.2,227.9 L133.4,229.2 L133.7,230.3 L134.0,231.2 L134.3,231.8 L134.6,232.1 L134.9,232.1 L135.2,231.7 L135.5,230.9 L135.8,229.8 L136.1,228.4 L136.4,226.6 L136.7,224.6 L137.0,222.4 L137.3,220.0 L137.6,217.5 L137.9,215.0 L138.2,212.4 L138.5,210.0 L138.8,207.7 L139.1,205.6 L139.4,203.7 L139.7,202.1 L140.0,200.9 L140.3,200.0 L140.6,199.4 L140.9,199.3 L141.2,199.4 L141.5,200.0 L141.8,200.8 L142.0,201.9 L142.3,203.2 L142.6,204.7 L142.9,206.3 L143.2,208.0 L143.5,209.6 L143.8,211.2 L144.1,212.6 L144.4,213.8 L144.7,214.8 L145.0,215.6 L145.3,216.0 L145.6,216.0 L145.9,215.7 L146.2,215.0 L146.5,214.0 L146.8,212.7 L147.1,211.0 L147.4,209.1 L147.7,207.0 L148.0,204.7 L148.3,202.3 L148.6,199.8 L148.9,197.4 L149.2,195.0 L149.5,192.8 L149.8,190.8 L150.1,189.0 L150.4,187.5 L150.7,186.4 L150.9,185.6 L151.2,185.1 L151.5,185.0 L151.8,185.3 L152.1,185.8 L152.4,186.7 L152.7,187.9 L153.0,189.3 L153.3,190.8 L153.6,192.5 L153.9,194.2 L154.2,195.8 L154.5,197.4 L154.8,198.9 L155.1,200.2 L155.4,201.2 L155.7,201.9 L156.0,202.3 L156.3,202.4 L156.6,202.1 L156.9,201.4 L157.2,200.4 L157.5,199.1 L157.8,197.4 L158.1,195.5 L158.4,193.4 L158.7,191.1 L159.0,188.7 L159.3,186.3 L159.5,183.8 L159.8,181.5 L160.1,179.3 L160.4,177.3 L160.7,175.6 L161.0,174.1 L161.3,173.0 L161.6,172.2 L161.9,171.8 L162.2,171.7 L162.5,172.0 L162.8,172.6 L163.1,173.5 L163.4,174.7 L163.7,176.1 L164.0,177.7 L164.3,179.3 L164.6,181.0 L164.9,182.7 L165.2,184.3 L165.5,185.8 L165.8,187.0 L166.1,188.1 L166.4,188.8 L166.7,189.2 L167.0,189.2 L167.3,188.9 L167.6,188.3 L167.9,187.2 L168.1,185.9 L168.4,184.3 L168.7,182.3 L169.0,180.2 L169.3,177.9 L169.6,175.6 L169.9,173.1 L170.2,170.7 L170.5,168.4 L170.8,166.3 L171.1,164.3 L171.4,162.6 L171.7,161.2 L172.0,160.1 L172.3,159.4 L172.6,159.0 L172.9,159.0 L173.2,159.3 L173.5,160.0 L173.8,161.0 L174.1,162.2 L174.4,163.7 L174.7,165.3 L175.0,167.0 L175.3,168.8 L175.6,170.5 L175.9,172.2 L176.2,173.7 L176.5,175.0 L176.8,176.1 L177.0,176.9 L177.3,177.3 L177.6,177.4 L177.9,177.2 L178.2,176.5 L178.5,175.6 L178.8,174.3 L179.1,172.7 L179.4,170.9 L179.7,168.8 L180.0,166.6 L180.3,164.3 L180.6,162.0 L180.9,159.7 L181.2,157.4 L181.5,155.4 L181.8,153.5 L182.1,151.9 L182.4,150.6 L182.7,149.6 L183.0,148.9 L183.3,148.7 L183.6,148.8 L183.9,149.2 L184.2,150.0 L184.5,151.1 L184.8,152.4 L185.1,154.0 L185.4,155.7 L185.6,157.6 L185.9,159.4 L186.2,161.3 L186.5,163.0 L186.8,164.7 L187.1,166.1 L187.4,167.2 L187.7,168.1 L188.0,168.7 L188.3,168.9 L188.6,168.7 L188.9,168.2 L189.2,167.3 L189.5,166.1 L189.8,164.6 L190.1,162.9 L190.4,160.9 L190.7,158.8 L191.0,156.6 L191.3,154.3 L191.6,152.1 L191.9,150.0 L192.2,148.0 L192.5,146.2 L192.8,144.7 L193.1,143.4 L193.4,142.5 L193.7,141.9 L194.0,141.7 L194.3,141.9 L194.5,142.4 L194.8,143.2 L195.1,144.4 L195.4,145.8 L195.7,147.4 L196.0,149.1 L196.3,151.0 L196.6,152.9 L196.9,154.7 L197.2,156.5 L197.5,158.1 L197.8,159.5 L198.1,160.7 L198.4,161.6 L198.7,162.1 L199.0,162.3 L199.3,162.1 L199.6,161.6 L199.9,160.7 L200.2,159.5 L200.5,158.0 L200.8,156.3 L201.1,154.3 L201.4,152.2 L201.7,150.0 L202.0,147.8 L202.3,145.5 L202.6,143.4 L202.9,141.5 L203.1,139.7 L203.4,138.2 L203.7,137.0 L204.0,136.1 L204.3,135.6 L204.6,135.4 L204.9,135.6 L205.2,136.2 L205.5,137.0 L205.8,138.2 L206.1,139.6 L206.4,141.3 L206.7,143.1 L207.0,145.0 L207.3,146.9 L207.6,148.8 L207.9,150.6 L208.2,152.2 L208.5,153.7 L208.8,154.9 L209.1,155.8 L209.4,156.3 L209.7,156.5 L210.0,156.4 L210.3,155.9 L210.6,155.0 L210.9,153.9 L211.2,152.4 L211.5,150.7 L211.7,148.7 L212.0,146.6 L212.3,144.5 L212.6,142.3 L212.9,140.1 L213.2,138.0 L213.5,136.1 L213.8,134.4 L214.1,132.9 L214.4,131.7 L214.7,130.9 L215.0,130.4 L215.3,130.3 L215.6,130.5 L215.9,131.1 L216.2,132.1 L216.5,133.3 L216.8,134.7 L217.1,136.4 L217.4,138.2 L217.7,140.2 L218.0,142.1 L218.3,144.0 L218.6,145.9 L218.9,147.5 L219.2,149.0 L219.5,150.2 L219.8,151.1 L220.1,151.7 L220.4,151.9 L220.6,151.8 L220.9,151.3 L221.2,150.5 L221.5,149.3 L221.8,147.9 L222.1,146.1 L222.4,144.2 L222.7,142.2 L223.0,140.0 L223.3,137.8 L223.6,135.7 L223.9,133.6 L224.2,131.7 L224.5,130.0 L224.8,128.6 L225.1,127.5 L225.4,126.7 L225.7,126.2 L226.0,126.1 L226.3,126.4 L226.6,127.0 L226.9,127.9 L227.2,129.2 L227.5,130.7 L227.8,132.3 L228.1,134.2 L228.4,136.1 L228.7,138.1 L229.0,140.0 L229.2,141.8 L229.5,143.5 L229.8,144.9 L230.1,146.1 L230.4,147.0 L230.7,147.6 L231.0,147.8 L231.3,147.7 L231.6,147.2 L231.9,146.3 L232.2,145.2 L232.5,143.7 L232.8,142.0 L233.1,140.1 L233.4,138.0 L233.7,135.9 L234.0,133.7 L234.3,131.5 L234.6,129.5 L234.9,127.6 L235.2,126.0 L235.5,124.6 L235.8,123.5 L236.1,122.7 L236.4,122.3 L236.7,122.2 L237.0,122.5 L237.3,123.2 L237.6,124.2 L237.9,125.5 L238.1,127.0 L238.4,128.7 L238.7,130.6 L239.0,132.6 L239.3,134.6 L239.6,136.5 L239.9,138.4 L240.2,140.1 L240.5,141.6 L240.8,142.8 L241.1,143.7 L241.4,144.3 L241.7,144.6 L242.0,144.5 L242.3,144.0 L242.6,143.2 L242.9,142.0 L243.2,140.6 L243.5,138.9 L243.8,137.0 L244.1,135.0 L244.4,132.8 L244.7,130.7 L245.0,128.6 L245.3,126.6 L245.6,124.7 L245.9,123.1 L246.2,121.8 L246.5,120.7 L246.7,120.0 L247.0,119.6 L247.3,119.6 L247.6,119.9 L247.9,120.6 L248.2,121.6 L248.5,122.9 L248.8,124.4 L249.1,126.2 L249.4,128.1 L249.7,130.1 L250.0,132.1 L250.3,134.0 L250.6,135.9 L250.9,137.6 L251.2,139.1 L251.5,140.3 L251.8,141.2 L252.1,141.8 L252.4,142.0 L252.7,141.9 L253.0,141.4 L253.3,140.6 L253.6,139.4 L253.9,138.0 L254.2,136.3 L254.5,134.4 L254.8,132.4 L255.1,130.3 L255.3,128.1 L255.6,126.0 L255.9,124.0 L256.2,122.2 L256.5,120.6 L256.8,119.3 L257.1,118.2 L257.4,117.5 L257.7,117.2 L258.0,117.2 L258.3,117.5 L258.6,118.3 L258.9,119.3 L259.2,120.6 L259.5,122.2 L259.8,124.0 L260.1,125.9 L260.4,127.9 L260.7,129.9 L261.0,131.9 L261.3,133.8 L261.6,135.5 L261.9,137.0 L262.2,138.2 L262.5,139.1 L262.8,139.7 L263.1,140.0 L263.4,139.8 L263.7,139.4 L264.0,138.5 L264.2,137.4 L264.5,136.0 L264.8,134.3 L265.1,132.4 L265.4,130.4 L265.7,128.3 L266.0,126.2 L266.3,124.1 L266.6,122.1 L266.9,120.3 L267.2,118.7 L267.5,117.4 L267.8,116.4 L268.1,115.7 L268.4,115.4 L268.7,115.4 L269.0,115.8 L269.3,116.6 L269.6,117.6 L269.9,119.0 L270.2,120.6 L270.5,122.4 L270.8,124.3 L271.1,126.3 L271.4,128.4 L271.7,130.4 L272.0,132.2 L272.3,133.9 L272.6,135.4 L272.8,136.7 L273.1,137.6 L273.4,138.2 L273.7,138.4 L274.0,138.3 L274.3,137.8 L274.6,137.0 L274.9,135.8 L275.2,134.4 L275.5,132.7 L275.8,130.8 L276.1,128.8 L276.4,126.7 L276.7,124.6 L277.0,122.6 L277.3,120.6 L277.6,118.8 L277.9,117.3 L278.2,116.0 L278.5,115.0 L278.8,114.3 L279.1,114.0 L279.4,114.1 L279.7,114.5 L280.0,115.2 L280.3,116.3 L280.6,117.7 L280.9,119.3 L281.2,121.1 L281.5,123.1 L281.7,125.1 L282.0,127.1 L282.3,129.1 L282.6,131.0 L282.9,132.7 L283.2,134.2 L283.5,135.4 L283.8,136.3 L284.1,136.9 L284.4,137.1 L284.7,137.0 L285.0,136.5 L285.3,135.7 L285.6,134.5 L285.9,133.1 L286.2,131.4 L286.5,129.5 L286.8,127.5 L287.1,125.4 L287.4,123.3 L287.7,121.3 L288.0,119.3 L288.3,117.5 L288.6,116.0 L288.9,114.7 L289.2,113.7 L289.5,113.1 L289.8,112.8 L290.1,112.9 L290.3,113.3 L290.6,114.1 L290.9,115.2 L291.2,116.5 L291.5,118.2 L291.8,120.0 L292.1,121.9 L292.4,123.9 L292.7,126.0 L293.0,127.9 L293.3,129.8 L293.6,131.5 L293.9,133.0 L294.2,134.2 L294.5,135.1 L294.8,135.6 L295.1,135.8 L295.4,135.7 L295.7,135.1 L296.0,134.3 L296.3,133.1 L296.6,131.7 L296.9,130.0 L297.2,128.1 L297.5,126.0 L297.8,123.9 L298.1,121.8 L298.4,119.8 L298.7,117.9 L298.9,116.1 L299.2,114.6 L299.5,113.3 L299.8,112.3 L300.1,111.7 L300.4,111.4 L300.7,111.5 L301.0,112.0 L301.3,112.8 L301.6,113.9 L301.9,115.3 L302.2,117.0 L302.5,118.8 L302.8,120.8 L303.1,122.8 L303.4,124.8 L303.7,126.8 L304.0,128.7 L304.3,130.4 L304.6,131.9 L304.9,133.1 L305.2,134.0 L305.5,134.6 L305.8,134.8 L306.1,134.7 L306.4,134.2 L306.7,133.3 L307.0,132.1 L307.3,130.7 L307.6,129.0 L307.8,127.1 L308.1,125.1 L308.4,123.0 L308.7,120.9 L309.0,118.9 L309.3,117.0 L309.6,115.3 L309.9,113.7 L310.2,112.5 L310.5,111.6 L310.8,111.0 L311.1,110.7 L311.4,110.8 L311.7,111.3 L312.0,112.1 L312.3,113.3 L312.6,114.7 L312.9,116.4 L313.2,118.2 L313.5,120.2 L313.8,122.2 L314.1,124.3 L314.4,126.3 L314.7,128.1 L315.0,129.8 L315.3,131.3 L315.6,132.5 L315.9,133.4 L316.2,134.0 L316.4,134.2 L316.7,134.0 L317.0,133.5 L317.3,132.6 L317.6,131.4 L317.9,130.0 L318.2,128.3 L318.5,126.4 L318.8,124.4 L319.1,122.3 L319.4,120.2 L319.7,118.2 L320.0,116.3 L320.3,114.6 L320.6,113.1 L320.9,111.8 L321.2,110.9 L321.5,110.3 L321.8,110.1 L322.1,110.3 L322.4,110.8 L322.7,111.6 L323.0,112.7 L323.3,114.2 L323.6,115.8 L323.9,117.7 L324.2,119.7 L324.5,121.7 L324.8,123.8 L325.1,125.8 L325.3,127.7 L325.6,129.4 L325.9,130.8 L326.2,132.0 L326.5,132.9 L326.8,133.4 L327.1,133.6 L327.4,133.5 L327.7,132.9 L328.0,132.1 L328.3,130.9 L328.6,129.4 L328.9,127.7 L329.2,125.8 L329.5,123.8 L329.8,121.7 L330.1,119.7 L330.4,117.6 L330.7,115.7 L331.0,114.0 L331.3,112.5 L331.6,111.3 L331.9,110.4 L332.2,109.9 L332.5,109.6 L332.8,109.8 L333.1,110.3 L333.4,111.2 L333.7,112.3 L333.9,113.8 L334.2,115.5 L334.5,117.3 L334.8,119.3 L335.1,121.4 L335.4,123.4 L335.7,125.4 L336.0,127.3 L336.3,129.0 L336.6,130.4 L336.9,131.6 L337.2,132.5 L337.5,133.0 L337.8,133.2 L338.1,133.0 L338.4,132.5 L338.7,131.6 L339.0,130.4 L339.3,128.9 L339.6,127.2 L339.9,125.3 L340.2,123.3 L340.5,121.2 L340.8,119.2 L341.1,117.2 L341.4,115.3 L341.7,113.6 L342.0,112.1 L342.3,110.9 L342.6,110.0 L342.8,109.4 L343.1,109.2 L343.4,109.4 L343.7,109.9 L344.0,110.8 L344.3,112.0 L344.6,113.5 L344.9,115.1 L345.2,117.0 L345.5,119.0 L345.8,121.1 L346.1,123.1 L346.4,125.1 L346.7,127.0 L347.0,128.7 L347.3,130.1 L347.6,131.3 L347.9,132.2 L348.2,132.7 L348.5,132.8 L348.8,132.6 L349.1,132.1 L349.4,131.2 L349.7,130.0 L350.0,128.5 L350.3,126.8 L350.6,124.9 L350.9,122.9 L351.2,120.8 L351.4,118.7 L351.7,116.7 L352.0,114.8 L352.3,113.1 L352.6,111.7 L352.9,110.5 L353.2,109.6 L353.5,109.1 L353.8,108.9 L354.1,109.1 L354.4,109.6 L354.7,110.5 L355.0,111.7 L355.3,113.2 L355.6,114.9 L355.9,116.8 L356.2,118.8 L356.5,120.8 L356.8,122.9 L357.1,124.9 L357.4,126.7 L357.7,128.4 L358.0,129.8 L358.3,131.0 L358.6,131.8 L358.9,132.4 L359.2,132.5 L359.5,132.3 L359.8,131.7 L360.0,130.8 L360.3,129.6 L360.6,128.1 L360.9,126.4 L361.2,124.5 L361.5,122.5 L361.8,120.4 L362.1,118.3 L362.4,116.3 L362.7,114.4 L363.0,112.8 L363.3,111.3 L363.6,110.1 L363.9,109.3 L364.2,108.8 L364.5,108.6 L364.8,108.8 L365.1,109.3 L365.4,110.2 L365.7,111.4 L366.0,112.9 L366.3,114.6 L366.6,116.5 L366.9,118.5 L367.2,120.6 L367.5,122.6 L367.8,124.6 L368.1,126.5 L368.4,128.2 L368.7,129.6 L368.9,130.7 L369.2,131.6 L369.5,132.1 L369.8,132.2 L370.1,132.0 L370.4,131.4 L370.7,130.5 L371.0,129.3 L371.3,127.8 L371.6,126.0 L371.9,124.1 L372.2,122.1 L372.5,120.0 L372.8,118.0 L373.1,116.0 L373.4,114.1 L373.7,112.4 L374.0,111.0 L374.3,109.8 L374.6,109.0 L374.9,108.5 L375.2,108.3 L375.5,108.5 L375.8,109.1 L376.1,110.0 L376.4,111.2 L376.7,112.7 L377.0,114.4 L377.3,116.3 L377.5,118.3 L377.8,120.4 L378.1,122.5 L378.4,124.5 L378.7,126.3 L379.0,128.0 L379.3,129.4 L379.6,130.5 L379.9,131.4 L380.2,131.8 L380.5,132.0 L380.8,131.7 L381.1,131.1 L381.4,130.2 L381.7,129.0 L382.0,127.5 L382.3,125.7 L382.6,123.8 L382.9,121.8 L383.2,119.7 L383.5,117.7 L383.8,115.7 L384.1,113.8 L384.4,112.1 L384.7,110.7 L385.0,109.6 L385.3,108.7 L385.6,108.3 L385.9,108.1 L386.2,108.4 L386.4,109.0 L386.7,109.9 L387.0,111.1 L387.3,112.6 L387.6,114.3 L387.9,116.2 L388.2,118.3 L388.5,120.3 L388.8,122.4 L389.1,124.4 L389.4,126.2 L389.7,127.9 L390.0,129.3 L390.3,130.4 L390.6,131.2 L390.9,131.7 L391.2,131.8 L391.5,131.6 L391.8,131.0 L392.1,130.0 L392.4,128.8 L392.7,127.3 L393.0,125.5 L393.3,123.6 L393.6,121.6 L393.9,119.5 L394.2,117.4 L394.5,115.5 L394.8,113.6 L395.0,111.9 L395.3,110.5 L395.6,109.4 L395.9,108.6 L396.2,108.1 L396.5,108.0 L396.8,108.2 L397.1,108.8 L397.4,109.8 L397.7,111.0 L398.0,112.5 L398.3,114.3 L398.6,116.2 L398.9,118.2 L399.2,120.3 L399.5,122.3 L399.8,124.3 L400.1,126.1 L400.4,127.8 L400.7,129.2 L401.0,130.3 L401.3,131.1 L401.6,131.6 L401.9,131.7 L402.2,131.4 L402.5,130.8 L402.8,129.8 L403.1,128.6 L403.4,127.0 L403.6,125.3 L403.9,123.4 L404.2,121.4 L404.5,119.3 L404.8,117.2 L405.1,115.2 L405.4,113.4 L405.7,111.7 L406.0,110.3 L406.3,109.2 L406.6,108.4 L406.9,108.0 L407.2,107.9 L407.5,108.1 L407.8,108.7 L408.1,109.7 L408.4,111.0 L408.7,112.5 L409.0,114.2 L409.3,116.1 L409.6,118.2 L409.9,120.2 L410.2,122.3 L410.5,124.3 L410.8,126.1 L411.1,127.7 L411.4,129.1 L411.7,130.2 L412.0,131.0 L412.3,131.5 L412.5,131.5 L412.8,131.3 L413.1,130.6 L413.4,129.7 L413.7,128.4 L414.0,126.9 L414.3,125.1 L414.6,123.2 L414.9,121.2 L415.2,119.1 L415.5,117.0 L415.8,115.1 L416.1,113.2 L416.4,111.6 L416.7,110.2 L417.0,109.1 L417.3,108.3 L417.6,107.8 L417.9,107.8 L418.2,108.0 L418.5,108.7 L418.8,109.6 L419.1,110.9 L419.4,112.4 L419.7,114.2 L420.0,116.1 L420.3,118.1 L420.6,120.2 L420.9,122.3 L421.1,124.2 L421.4,126.1 L421.7,127.7 L422.0,129.1 L422.3,130.2 L422.6,131.0 L422.9,131.4 L423.2,131.5 L423.5,131.2 L423.8,130.5 L424.1,129.6 L424.4,128.3 L424.7,126.7 L425.0,125.0 L425.3,123.0 L425.6,121.0 L425.9,118.9 L426.2,116.9 L426.5,114.9 L426.8,113.1 L427.1,111.5 L427.4,110.1 L427.7,109.0 L428.0,108.2 L428.3,107.8 L428.6,107.7 L428.9,108.0 L429.2,108.7 L429.5,109.6 L429.8,110.9 L430.0,112.5 L430.3,114.2 L430.6,116.2 L430.9,118.2 L431.2,120.3 L431.5,122.3 L431.8,124.3 L432.1,126.1 L432.4,127.7 L432.7,129.1 L433.0,130.2 L433.3,130.9 L433.6,131.4 L433.9,131.4 L434.2,131.1 L434.5,130.5 L434.8,129.5 L435.1,128.2 L435.4,126.6 L435.7,124.9 L436.0,122.9 L436.3,120.9 L436.6,118.8 L436.9,116.8 L437.2,114.8 L437.5,113.0 L437.8,111.4 L438.1,110.0 L438.4,108.9 L438.6,108.2 L438.9,107.7 L439.2,107.7 L439.5,108.0 L439.8,108.7 L440.1,109.7 L440.4,111.0 L440.7,112.5 L441.0,114.3 L441.3,116.2 L441.6,118.2 L441.9,120.3 L442.2,122.4 L442.5,124.3 L442.8,126.1 L443.1,127.8 L443.4,129.1 L443.7,130.2 L444.0,131.0 L444.3,131.4 L444.6,131.4 L444.9,131.1 L445.2,130.4 L445.5,129.4 L445.8,128.1 L446.1,126.6 L446.4,124.8 L446.7,122.8 L447.0,120.8 L447.2,118.7 L447.5,116.7 L447.8,114.7 L448.1,112.9 L448.4,111.3 L448.7,109.9 L449.0,108.9 L449.3,108.1 L449.6,107.7 L449.9,107.7 L450.2,108.0 L450.5,108.7 L450.8,109.7 L451.1,111.0 L451.4,112.6 L451.7,114.3 L452.0,116.3 L452.3,118.3 L452.6,120.4 L452.9,122.4 L453.2,124.4 L453.5,126.2 L453.8,127.8 L454.1,129.2 L454.4,130.2 L454.7,131.0 L455.0,131.4 L455.3,131.4 L455.6,131.1 L455.9,130.4 L456.1,129.4 L456.4,128.0 L456.7,126.5 L457.0,124.7 L457.3,122.8 L457.6,120.7 L457.9,118.6 L458.2,116.6 L458.5,114.6 L458.8,112.8 L459.1,111.2 L459.4,109.9 L459.7,108.8 L460.0,108.1 L460.3,107.7 L460.6,107.7 L460.9,108.0 L461.2,108.7 L461.5,109.7 L461.8,111.0 L462.1,112.6 L462.4,114.4 L462.7,116.3 L463.0,118.4 L463.3,120.5 L463.6,122.5 L463.9,124.5 L464.2,126.3 L464.5,127.9 L464.7,129.2 L465.0,130.3 L465.3,131.0 L465.6,131.4 L465.9,131.4 L466.2,131.0 L466.5,130.3 L466.8,129.3 L467.1,128.0 L467.4,126.4 L467.7,124.6 L468.0,122.7 L468.3,120.6 L468.6,118.5 L468.9,116.5 L469.2,114.5 L469.5,112.7 L469.8,111.2 L470.1,109.8 L470.4,108.8 L470.7,108.1 L471.0,107.7 L471.3,107.7 L471.6,108.0 L471.9,108.7 L472.2,109.8 L472.5,111.1 L472.8,112.7 L473.1,114.5 L473.4,116.4 L473.6,118.5 L473.9,120.5 L474.2,122.6 L474.5,124.5 L474.8,126.3 L475.1,127.9 L475.4,129.2 L475.7,130.3 L476.0,131.0 L476.3,131.3 L476.6,131.3 L476.9,131.0 L477.2,130.3 L477.5,129.2 L477.8,127.9 L478.1,126.3 L478.4,124.5 L478.7,122.6 L479.0,120.5 L479.3,118.4 L479.6,116.4 L479.9,114.5 L480.2,112.7 L480.5,111.1 L480.8,109.8 L481.1,108.7 L481.4,108.0 L481.7,107.7 L482.0,107.7 L482.2,108.0 L482.5,108.8 L482.8,109.8 L483.1,111.1 L483.4,112.7 L483.7,114.5 L484.0,116.5 L484.3,118.5 L484.6,120.6 L484.9,122.6 L485.2,124.6 L485.5,126.4 L485.8,128.0 L486.1,129.3 L486.4,130.3 L486.7,131.0 L487.0,131.3 L487.3,131.3 L487.6,131.0 L487.9,130.2 L488.2,129.2 L488.5,127.8 L488.8,126.2 L489.1,124.4 L489.4,122.5 L489.7,120.4 L490.0,118.4 L490.3,116.3 L490.6,114.4 L490.9,112.6 L491.1,111.0 L491.4,109.7 L491.7,108.7 L492.0,108.0 L492.3,107.6 L492.6,107.7 L492.9,108.0 L493.2,108.8 L493.5,109.8 L493.8,111.2 L494.1,112.8 L494.4,114.6 L494.7,116.6 L495.0,118.6 L495.3,120.7 L495.6,122.7 L495.9,124.6 L496.2,126.4 L496.5,128.0 L496.8,129.3 L497.1,130.3 L497.4,131.0 L497.7,131.3 L498.0,131.3 L498.3,130.9 L498.6,130.2 L498.9,129.1 L499.2,127.8 L499.5,126.2 L499.7,124.3 L500.0,122.4 L500.3,120.3 L500.6,118.3 L500.9,116.2 L501.2,114.3 L501.5,112.5 L501.8,110.9 L502.1,109.6 L502.4,108.6 L502.7,108.0 L503.0,107.6 L503.3,107.7 L503.6,108.1 L503.9,108.8 L504.2,109.9 L504.5,111.2 L504.8,112.8 L505.1,114.7 L505.4,116.6 L505.7,118.7 L506.0,120.7 L506.3,122.8 L506.6,124.7 L506.9,126.5 L507.2,128.0 L507.5,129.3 L507.8,130.3 L508.1,131.0 L508.3,131.3 L508.6,131.3 L508.9,130.9 L509.2,130.1 L509.5,129.1 L509.8,127.7 L510.1,126.1 L510.4,124.3 L510.7,122.3 L511.0,120.2 L511.3,118.2 L511.6,116.1 L511.9,114.2 L512.2,112.4 L512.5,110.9 L512.8,109.6 L513.1,108.6 L513.4,107.9 L513.7,107.6 L514.0,107.7 L514.3,108.1 L514.6,108.8 L514.9,109.9 L515.2,111.3 L515.5,112.9 L515.8,114.7 L516.1,116.7 L516.4,118.7 L516.7,120.8 L517.0,122.8 L517.2,124.8 L517.5,126.5 L517.8,128.1 L518.1,129.4 L518.4,130.4 L518.7,131.0 L519.0,131.3 L519.3,131.3 L519.6,130.9 L519.9,130.1 L520.2,129.0 L520.5,127.6 L520.8,126.0 L521.1,124.2 L521.4,122.2 L521.7,120.2 L522.0,118.1 L522.3,116.0 L522.6,114.1 L522.9,112.4 L523.2,110.8 L523.5,109.5 L523.8,108.5 L524.1,107.9 L524.4,107.6 L524.7,107.7 L525.0,108.1 L525.3,108.9 L525.6,110.0 L525.8,111.3 L526.1,113.0 L526.4,114.8 L526.7,116.8 L527.0,118.8 L527.3,120.9 L527.6,122.9 L527.9,124.8 L528.2,126.6 L528.5,128.1 L528.8,129.4 L529.1,130.4 L529.4,131.0 L529.7,131.3 L530.0,131.3 L530.3,130.8 L530.6,130.0 L530.9,128.9 L531.2,127.6 L531.5,125.9 L531.8,124.1 L532.1,122.1 L532.4,120.1 L532.7,118.0 L533.0,116.0 L533.3,114.0 L533.6,112.3 L533.9,110.7 L534.2,109.5 L534.5,108.5 L534.7,107.9 L535.0,107.6 L535.3,107.7 L535.6,108.1 L535.9,108.9 L536.2,110.0 L536.5,111.4 L536.8,113.0 L537.1,114.9 L537.4,116.8 L537.7,118.9 L538.0,121.0 L538.3,123.0 L538.6,124.9 L538.9,126.7 L539.2,128.2 L539.5,129.5 L539.8,130.4 L540.1,131.0 L540.4,131.3 L540.7,131.2 L541.0,130.8 L541.3,130.0 L541.6,128.9 L541.9,127.5 L542.2,125.8 L542.5,124.0 L542.8,122.0 L543.1,120.0 L543.3,117.9 L543.6,115.9 L543.9,114.0 L544.2,112.2 L544.5,110.7 L544.8,109.4 L545.1,108.5 L545.4,107.8 L545.7,107.6 L546.0,107.7 L546.3,108.1 L546.6,108.9 L546.9,110.0 L547.2,111.4 L547.5,113.1 L547.8,114.9 L548.1,116.9 L548.4,119.0 L548.7,121.0 L549.0,123.1 L549.3,125.0 L549.6,126.7 L549.9,128.2 L550.2,129.5 L550.5,130.4 L550.8,131.1 L551.1,131.3 L551.4,131.2 L551.7,130.8 L551.9,130.0 L552.2,128.8 L552.5,127.4 L552.8,125.8 L553.1,123.9 L553.4,121.9 L553.7,119.9 L554.0,117.8 L554.3,115.8 L554.6,113.9 L554.9,112.1 L555.2,110.6 L555.5,109.4 L555.8,108.4 L556.1,107.8 L556.4,107.6 L556.7,107.7 L557.0,108.1 L557.3,109.0 L557.6,110.1 L557.9,111.5 L558.2,113.2 L558.5,115.0 L558.8,117.0 L559.1,119.0 L559.4,121.1 L559.7,123.1 L560.0,125.0 L560.3,126.8 L560.6,128.3 L560.8,129.5 L561.1,130.5 L561.4,131.1 L561.7,131.3 L562.0,131.2 L562.3,130.7 L562.6,129.9 L562.9,128.8 L563.2,127.4 L563.5,125.7 L563.8,123.8 L564.1,121.9 L564.4,119.8 L564.7,117.7 L565.0,115.7 L565.3,113.8 L565.6,112.1 L565.9,110.6 L566.2,109.3 L566.5,108.4 L566.8,107.8 L567.1,107.6 L567.4,107.7 L567.7,108.2 L568.0,109.0 L568.3,110.1 L568.6,111.6 L568.9,113.2 L569.2,115.1 L569.4,117.1 L569.7,119.1 L570.0,121.2 L570.3,123.2 L570.6,125.1 L570.9,126.8 L571.2,128.3 L571.5,129.6 L571.8,130.5 L572.1,131.1 L572.4,131.3 L572.7,131.2 L573.0,130.7 L573.3,129.9 L573.6,128.7 L573.9,127.3 L574.2,125.6 L574.5,123.8 L574.8,121.8 L575.1,119.7 L575.4,117.6 L575.7,115.6 L576.0,113.7 L576.3,112.0 L576.6,110.5 L576.9,109.3 L577.2,108.4 L577.5,107.8 L577.8,107.6 L578.1,107.7 L578.3,108.2 L578.6,109.0 L578.9,110.2 L579.2,111.6 L579.5,113.3 L579.8,115.1 L580.1,117.1 L580.4,119.2 L580.7,121.3 L581.0,123.3 L581.3,125.2 L581.6,126.9 L581.9,128.4 L582.2,129.6 L582.5,130.5 L582.8,131.1 L583.1,131.3 L583.4,131.2 L583.7,130.7 L584.0,129.8 L584.3,128.7 L584.6,127.2 L584.9,125.5 L585.2,123.7 L585.5,121.7 L585.8,119.6 L586.1,117.5 L586.4,115.5 L586.7,113.6 L586.9,111.9 L587.2,110.4 L587.5,109.2 L587.8,108.3 L588.1,107.8 L588.4,107.5 L588.7,107.7 L589.0,108.2 L589.3,109.1 L589.6,110.2 L589.9,111.7 L590.2,113.4 L590.5,115.2 L590.8,117.2 L591.1,119.3 L591.4,121.3 L591.7,123.4 L592.0,125.2 L592.3,127.0 L592.6,128.4 L592.9,129.7 L593.2,130.5 L593.5,131.1 L593.8,131.3 L594.1,131.1 L594.4,130.6 L594.7,129.8 L595.0,128.6 L595.3,127.1 L595.6,125.5 L595.8,123.6 L596.1,121.6 L596.4,119.5 L596.7,117.5 L597.0,115.5 L597.3,113.6 L597.6,111.9 L597.9,110.4 L598.2,109.2 L598.5,108.3 L598.8,107.7 L599.1,107.5 L599.4,107.7 L599.7,108.2 L600.0,109.1 L600.3,110.3 L600.6,111.7 L600.9,113.4 L601.2,115.3 L601.5,117.3 L601.8,119.4 L602.1,121.4 L602.4,123.4 L602.7,125.3 L603.0,127.0 L603.3,128.5 L603.6,129.7 L603.9,130.6 L604.2,131.1 L604.4,131.3 L604.7,131.1 L605.0,130.6 L605.3,129.7 L605.6,128.5 L605.9,127.1 L606.2,125.4 L606.5,123.5 L606.8,121.5 L607.1,119.4 L607.4,117.4 L607.7,115.4 L608.0,113.5 L608.3,111.8 L608.6,110.3 L608.9,109.1 L609.2,108.3 L609.5,107.7 L609.8,107.5 L610.1,107.7 L610.4,108.3 L610.7,109.1 L611.0,110.3 L611.3,111.8 L611.6,113.5 L611.9,115.4 L612.2,117.4 L612.5,119.4 L612.8,121.5 L613.0,123.5 L613.3,125.4 L613.6,127.1 L613.9,128.5 L614.2,129.7 L614.5,130.6 L614.8,131.1 L615.1,131.3 L615.4,131.1 L615.7,130.6 L616.0,129.7 L616.3,128.5 L616.6,127.0 L616.9,125.3 L617.2,123.4 L617.5,121.4 L617.8,119.4 L618.1,117.3 L618.4,115.3 L618.7,113.4 L619.0,111.7 L619.3,110.3 L619.6,109.1 L619.9,108.2 L620.2,107.7 L620.5,107.5 L620.8,107.7 L621.1,108.3 L621.4,109.2 L621.7,110.4 L621.9,111.9 L622.2,113.6 L622.5,115.4 L622.8,117.5 L623.1,119.5 L623.4,121.6 L623.7,123.6 L624.0,125.5 L624.3,127.1 L624.6,128.6 L624.9,129.8 L625.2,130.6 L625.5,131.1 L625.8,131.3 L626.1,131.1 L626.4,130.5 L626.7,129.6 L627.0,128.4 L627.3,127.0 L627.6,125.2 L627.9,123.3 L628.2,121.3 L628.5,119.3 L628.8,117.2 L629.1,115.2 L629.4,113.3 L629.7,111.7 L630.0,110.2 L630.3,109.0 L630.5,108.2 L630.8,107.7 L631.1,107.5 L631.4,107.7 L631.7,108.3 L632.0,109.2 L632.3,110.4 L632.6,111.9 L632.9,113.6 L633.2,115.5 L633.5,117.5 L633.8,119.6 L634.1,121.7 L634.4,123.7 L634.7,125.5 L635.0,127.2 L635.3,128.6 L635.6,129.8 L635.9,130.6 L636.2,131.2 L636.5,131.3 L636.8,131.1 L637.1,130.5 L637.4,129.6 L637.7,128.4 L638.0,126.9 L638.3,125.2 L638.6,123.3 L638.9,121.3 L639.2,119.2 L639.4,117.1 L639.7,115.1 L640.0,113.3 L640.3,111.6 L640.6,110.2 L640.9,109.0 L641.2,108.2 L641.5,107.7 L641.8,107.5 L642.1,107.8 L642.4,108.3 L642.7,109.3 L643.0,110.5 L643.3,112.0 L643.6,113.7 L643.9,115.6 L644.2,117.6 L644.5,119.7 L644.8,121.7 L645.1,123.7 L645.4,125.6 L645.7,127.3 L646.0,128.7 L646.3,129.8 L646.6,130.7 L646.9,131.2 L647.2,131.3 L647.5,131.1 L647.8,130.5 L648.0,129.6 L648.3,128.3 L648.6,126.8 L648.9,125.1 L649.2,123.2 L649.5,121.2 L649.8,119.1 L650.1,117.0 L650.4,115.1 L650.7,113.2 L651.0,111.5 L651.3,110.1 L651.6,109.0 L651.9,108.1 L652.2,107.7 L652.5,107.5 L652.8,107.8 L653.1,108.4 L653.4,109.3 L653.7,110.5 L654.0,112.0 L654.3,113.8 L654.6,115.7 L654.9,117.7 L655.2,119.8 L655.5,121.8 L655.8,123.8 L656.1,125.7 L656.4,127.3 L656.6,128.7 L656.9,129.9 L657.2,130.7 L657.5,131.2 L657.8,131.3 L658.1,131.0 L658.4,130.4 L658.7,129.5 L659.0,128.3 L659.3,126.8 L659.6,125.0 L659.9,123.1 L660.2,121.1 L660.5,119.0 L660.8,117.0 L661.1,115.0 L661.4,113.1 L661.7,111.5 L662.0,110.1 L662.3,108.9 L662.6,108.1 L662.9,107.6 L663.2,107.5 L663.5,107.8 L663.8,108.4 L664.1,109.3 L664.4,110.6 L664.7,112.1 L665.0,113.8 L665.3,115.8 L665.5,117.8 L665.8,119.9 L666.1,121.9 L666.4,123.9 L666.7,125.7 L667.0,127.4 L667.3,128.8 L667.6,129.9 L667.9,130.7 L668.2,131.2 L668.5,131.3 L668.8,131.0 L669.1,130.4 L669.4,129.5 L669.7,128.2" fill="none" stroke="#ff00ff" stroke-width="4.6" stroke-linejoin="round" stroke-linecap="butt"/>
<rect x="516.6" y="246.7" width="147.3" height="72.1" fill="#fff" stroke="#3a3a3a" stroke-width="1"/>
<path d="M521.9 256.9H576.8" stroke="#0000ff" stroke-width="4"/>
<text class="lg" transform="translate(581.0,261.9) scale(1.285,1)">Prey-I</text>
<path d="M521.9 274.2H576.8" stroke="#ff0000" stroke-width="4"/>
<text class="lg" transform="translate(581.0,279.2) scale(1.285,1)">Prey-II</text>
<path d="M521.9 291.5H576.8" stroke="#00ff00" stroke-width="4"/>
<text class="lg" transform="translate(581.0,296.5) scale(1.285,1)">Predator-I</text>
<path d="M521.9 308.8H576.8" stroke="#ff00ff" stroke-width="4"/>
<text class="lg" transform="translate(581.0,313.8) scale(1.285,1)">Predator-II</text>
</svg>
</body></html>
